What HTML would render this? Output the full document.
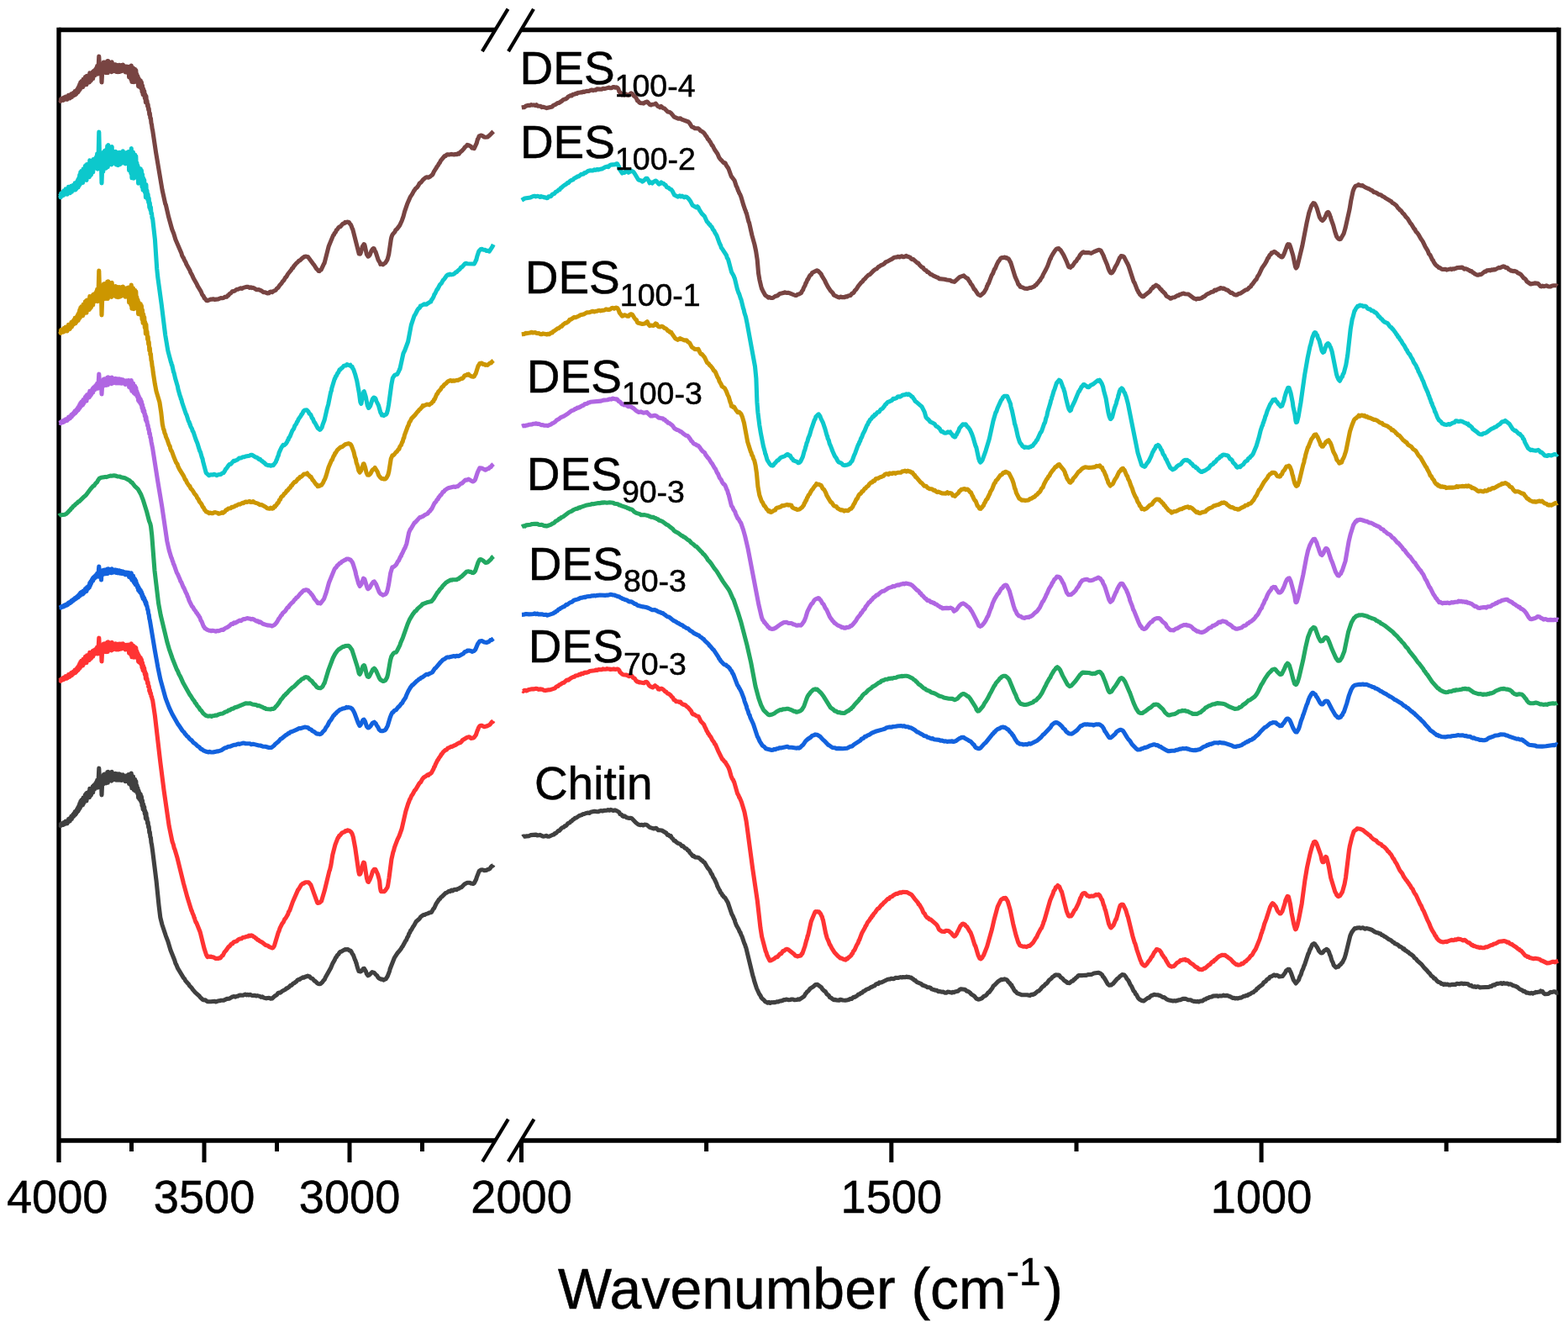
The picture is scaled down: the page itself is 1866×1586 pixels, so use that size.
<!DOCTYPE html>
<html><head><meta charset="utf-8"><title>FTIR spectra</title>
<style>html,body{margin:0;padding:0;background:#fff;overflow:hidden;} svg{display:block;}</style>
</head><body>
<svg width="1866" height="1586" viewBox="0 0 1866 1586"><g stroke="#000" stroke-width="5.3" fill="none" stroke-linecap="butt">
<line x1="70" y1="32.85" x2="70" y2="1383"/>
<line x1="1855" y1="32.85" x2="1855" y2="1359.65"/>
<line x1="70" y1="35.5" x2="589" y2="35.5"/>
<line x1="620.5" y1="35.5" x2="1855" y2="35.5"/>
<line x1="70" y1="1357" x2="589" y2="1357"/>
<line x1="620.5" y1="1357" x2="1855" y2="1357"/>
</g>
<g stroke="#000" stroke-width="5.0">
<line x1="243.0" y1="1357" x2="243.0" y2="1383"/>
<line x1="416.0" y1="1357" x2="416.0" y2="1383"/>
<line x1="156.5" y1="1357" x2="156.5" y2="1370"/>
<line x1="329.5" y1="1357" x2="329.5" y2="1370"/>
<line x1="502.5" y1="1357" x2="502.5" y2="1370"/>
<line x1="620.5" y1="1357" x2="620.5" y2="1383"/>
<line x1="1060.8" y1="1357" x2="1060.8" y2="1383"/>
<line x1="1501.1" y1="1357" x2="1501.1" y2="1383"/>
<line x1="840.6" y1="1357" x2="840.6" y2="1370"/>
<line x1="1281.0" y1="1357" x2="1281.0" y2="1370"/>
<line x1="1721.2" y1="1357" x2="1721.2" y2="1370"/>
</g>
<g stroke="#000" stroke-width="4.2" stroke-linecap="butt">
<line x1="573.9" y1="61.1" x2="604.5" y2="10.7"/>
<line x1="605" y1="61.1" x2="635" y2="10.7"/>
<line x1="574.2" y1="1382.1" x2="604.8" y2="1331.6"/>
<line x1="604.8" y1="1382.1" x2="635.5" y2="1331.6"/>
</g>
<path d="M70.5,981.9L71.6,981.5L72.2,982.6L72.7,980.2L73.3,981.9L73.8,980.2L74.4,981.4L74.9,979.4L75.5,981.4L76.0,978.5L76.6,980.7L77.1,978.8L77.7,980.1L78.2,977.2L78.8,979.5L79.3,977.0L79.9,979.8L80.4,976.7L81.0,978.5L81.5,974.5L82.1,977.1L82.6,974.0L83.2,977.0L83.7,973.4L84.3,975.3L84.8,971.3L85.4,974.4L85.9,970.5L86.5,972.4L87.0,969.1L87.6,971.4L88.1,967.7L88.7,970.0L89.2,965.7L89.8,969.3L90.3,965.0L90.9,967.7L91.4,963.3L92.0,966.1L92.5,961.2L93.1,965.0L93.6,959.2L94.2,963.0L94.7,956.2L95.3,961.3L95.8,953.6L96.4,959.1L96.9,952.0L97.5,958.3L98.0,951.1L98.6,957.7L99.1,949.1L99.7,955.5L100.2,949.5L100.8,952.9L101.3,945.7L101.9,952.9L102.4,944.4L103.0,952.9L103.5,943.2L104.1,948.5L104.6,943.1L105.2,948.9L105.7,942.1L106.3,948.8L106.8,938.4L107.4,947.1L107.9,938.7L108.5,945.8L109.0,938.5L109.6,942.8L110.1,936.1L110.7,942.9L111.2,934.7L111.8,939.6L112.3,933.8L112.9,938.8L113.4,932.6L114.0,937.0L114.5,930.9L115.1,936.8L115.6,928.4L116.2,937.1L116.7,928.1L117.0,931.7L117.8,914.0L118.7,934.7L120.4,926.1L121.0,946.0L121.8,928.1L122.2,923.5L122.8,933.2L123.3,921.7L123.9,929.8L124.4,921.1L125.0,929.0L125.5,921.8L126.1,931.9L126.6,920.8L127.2,930.5L127.7,918.9L128.3,931.3L128.8,918.2L129.4,927.0L129.9,919.8L130.5,928.6L131.0,921.5L131.6,928.5L132.1,919.3L132.7,929.2L133.2,918.4L133.8,926.3L134.3,921.3L134.9,927.8L135.4,921.8L136.0,926.4L136.5,920.6L137.1,926.2L137.6,920.3L138.2,928.1L138.7,922.7L139.3,927.2L139.8,920.8L140.4,928.3L140.9,922.3L141.5,926.3L142.0,920.9L142.6,928.3L143.1,922.8L143.7,927.2L144.2,921.7L144.8,928.4L145.3,923.3L145.9,928.1L146.4,921.9L147.0,928.0L147.5,923.8L148.1,927.0L148.6,923.5L149.2,929.7L149.7,924.0L150.3,927.8L150.8,922.7L151.4,928.3L151.9,923.3L152.5,928.6L153.0,921.5L153.6,932.5L154.1,921.9L154.7,930.7L155.2,922.8L155.8,934.5L156.3,920.0L156.9,937.8L157.4,925.4L158.0,933.4L158.5,923.7L159.1,939.7L159.6,927.5L160.2,940.4L160.7,927.3L161.3,941.3L161.8,929.5L162.4,940.3L162.9,934.7L163.5,943.8L164.0,937.9L164.6,949.2L165.1,940.9L165.7,950.6L166.2,943.6L166.8,951.9L167.3,945.0L167.9,954.1L168.4,947.9L169.0,958.7L169.5,952.3L170.1,962.8L170.6,956.7L171.2,964.2L171.7,960.0L172.3,968.4L172.8,964.7L173.4,973.8L173.9,967.3L174.5,975.2L175.0,973.3L175.6,979.8L176.1,978.1L176.7,984.5L177.2,983.6L177.8,990.8L178.3,989.9L178.9,996.0L179.4,996.5L180.0,1002.7L180.5,1004.7L181.6,1012.4L186.0,1047.6L189.0,1077.0L190.8,1091.6L192.8,1099.7L197.3,1113.3L199.7,1119.6L202.9,1130.2L207.8,1142.5L209.0,1146.6L209.6,1147.2L211.6,1152.2L218.7,1163.8L219.6,1164.5L220.5,1166.6L223.3,1169.8L224.3,1170.5L225.2,1172.4L228.2,1175.5L229.2,1177.2L232.4,1180.9L237.4,1185.2L238.3,1186.7L240.9,1189.0L242.1,1189.7L244.4,1189.9L246.9,1191.7L251.0,1191.7L255.4,1191.2L256.9,1192.0L259.9,1190.8L261.4,1190.8L262.9,1190.2L265.8,1190.3L270.1,1188.4L273.0,1188.2L275.9,1186.3L278.7,1185.5L280.2,1186.2L281.6,1185.3L283.1,1185.3L284.5,1184.2L286.0,1184.0L288.9,1184.3L291.8,1183.0L293.2,1183.9L294.7,1183.2L296.1,1183.9L297.5,1183.3L299.0,1184.1L300.4,1184.5L303.3,1184.4L304.8,1185.0L306.3,1184.6L309.2,1185.4L310.7,1186.4L312.3,1185.9L313.8,1187.1L316.9,1187.9L318.3,1187.5L319.7,1187.4L321.0,1187.5L322.2,1188.2L323.8,1188.0L327.5,1184.7L328.5,1184.4L329.6,1183.4L330.9,1181.6L332.1,1181.1L333.3,1181.1L334.5,1180.5L335.8,1179.2L339.7,1177.2L341.0,1175.8L342.1,1175.9L343.2,1174.7L344.4,1174.1L345.5,1172.6L346.7,1172.5L349.1,1169.9L350.3,1169.7L351.4,1168.6L352.6,1168.0L353.9,1166.2L355.3,1165.4L356.7,1165.5L358.1,1164.2L359.4,1163.7L360.8,1162.7L362.0,1163.1L363.2,1162.1L364.2,1162.2L366.0,1161.0L367.2,1161.7L368.4,1161.8L369.9,1163.8L371.9,1164.4L374.3,1167.2L375.5,1167.7L377.7,1169.9L378.6,1170.5L380.2,1170.8L381.4,1170.5L383.9,1168.3L384.7,1166.9L386.3,1165.4L387.1,1163.3L393.6,1151.7L396.1,1145.8L398.3,1142.2L399.0,1140.4L399.6,1139.3L400.3,1138.9L401.0,1137.2L402.0,1136.0L402.9,1135.4L403.9,1133.5L404.9,1132.4L406.0,1132.2L410.5,1129.6L412.0,1129.9L413.4,1129.5L414.7,1130.0L415.9,1131.0L417.0,1131.0L418.0,1132.2L418.9,1134.1L420.5,1136.5L422.6,1142.3L423.1,1143.0L423.7,1145.4L424.1,1145.8L424.6,1148.3L426.0,1152.9L427.0,1155.5L427.6,1155.4L428.7,1156.0L429.8,1155.6L431.1,1154.4L432.3,1152.5L433.4,1152.4L435.6,1156.1L436.3,1158.6L437.9,1160.8L439.0,1160.3L442.9,1156.6L445.3,1157.4L447.5,1159.9L448.7,1160.6L449.8,1162.8L450.9,1163.9L453.5,1165.1L455.0,1165.1L456.5,1166.1L457.9,1165.2L459.1,1164.9L461.2,1161.6L463.6,1155.3L464.1,1153.0L469.5,1139.3L473.0,1134.0L475.7,1130.8L477.4,1128.7L478.2,1127.0L479.0,1126.2L482.9,1119.0L483.5,1118.6L484.8,1115.2L486.0,1113.5L486.6,1111.1L487.9,1109.2L488.6,1107.1L489.3,1106.7L491.8,1102.3L492.6,1101.4L495.2,1096.5L499.3,1093.0L500.5,1091.0L502.8,1089.2L504.0,1088.6L505.2,1088.5L506.6,1087.6L509.3,1086.9L510.7,1086.0L513.4,1085.5L515.8,1081.2L516.6,1080.7L519.0,1075.4L522.6,1070.0L523.6,1069.5L524.6,1067.7L525.6,1067.1L530.2,1062.6L531.5,1062.3L534.2,1060.3L535.7,1060.7L537.3,1059.1L538.9,1059.8L540.4,1058.6L542.0,1058.3L543.5,1058.6L544.9,1057.5L546.2,1057.3L547.7,1056.1L549.1,1055.8L552.7,1052.0L556.1,1050.2L559.0,1050.2L560.4,1051.0L563.1,1051.5L564.3,1050.8L566.7,1046.0L567.3,1043.8L570.2,1036.3L572.1,1035.1L573.4,1034.9L574.8,1035.0L576.2,1035.6L579.0,1035.4L580.2,1034.6L581.6,1034.3L582.9,1033.6L584.3,1031.5L585.5,1030.2L586.5,1030.1L587.2,1029.0" fill="none" stroke="#404040" stroke-width="5.1" stroke-linejoin="round"/>
<path d="M621.9,995.8L622.8,995.1L623.8,995.0L625.1,995.3L626.5,994.9L629.7,994.6L631.4,993.6L637.9,993.1L639.4,993.9L642.5,993.4L645.7,994.9L647.3,995.1L650.5,994.3L652.0,995.3L653.5,995.3L657.8,993.3L659.1,993.0L660.4,991.5L661.7,991.4L664.2,988.6L665.5,988.5L668.1,985.5L669.5,984.5L670.9,984.3L672.1,982.7L673.2,982.6L674.4,981.7L675.6,979.9L678.0,978.8L679.2,977.4L680.4,976.9L681.7,975.4L682.9,974.8L684.2,973.4L685.5,973.3L689.4,970.5L692.3,969.6L693.8,968.5L695.3,968.5L696.8,967.8L699.8,967.1L701.4,967.4L702.9,966.3L707.5,965.3L710.6,965.8L712.1,965.7L713.7,964.9L715.4,964.6L717.0,965.0L718.7,964.4L722.0,964.3L723.6,963.5L725.2,964.3L726.7,963.4L729.5,964.4L731.8,963.9L733.8,964.6L736.8,966.4L738.0,968.7L739.8,969.4L740.9,971.0L742.0,971.5L743.2,970.9L745.9,972.8L748.8,973.5L750.3,973.3L751.9,973.7L756.7,978.8L759.6,981.0L762.5,981.7L763.9,981.2L765.4,982.0L767.0,981.1L768.5,981.2L770.0,981.7L773.1,984.4L776.2,985.4L777.7,985.9L780.7,985.2L783.5,987.8L784.9,987.7L787.6,988.0L793.0,991.3L794.3,993.4L795.7,993.3L797.0,994.9L798.2,994.5L799.5,997.1L800.8,998.0L802.1,1000.2L803.3,1000.2L804.5,1001.7L806.9,1003.4L809.3,1004.1L811.6,1006.7L812.8,1006.6L815.0,1008.9L817.3,1010.1L818.5,1011.8L819.6,1012.0L820.7,1014.2L823.1,1016.7L824.4,1018.6L825.7,1018.4L827.0,1019.9L830.8,1020.2L833.4,1022.0L834.6,1023.4L835.8,1023.9L837.0,1025.5L838.2,1025.9L842.1,1032.5L844.4,1035.2L846.6,1039.7L847.3,1040.1L848.7,1043.6L850.1,1045.6L852.9,1051.6L853.6,1054.0L855.9,1058.6L856.7,1059.6L857.4,1061.7L859.0,1063.5L859.8,1065.4L860.6,1065.7L861.4,1067.2L862.9,1068.2L866.3,1074.1L870.8,1087.5L872.2,1090.0L873.7,1093.7L874.2,1094.3L874.8,1096.8L876.5,1101.3L879.1,1105.8L880.4,1108.9L881.1,1109.5L881.7,1111.7L883.0,1114.1L885.9,1122.7L886.8,1124.5L887.3,1126.7L887.7,1127.2L896.0,1161.4L896.9,1163.9L897.4,1166.4L900.4,1175.8L903.6,1182.7L905.1,1184.8L905.9,1186.8L907.5,1188.6L909.3,1190.0L910.6,1191.7L912.0,1192.1L913.5,1193.2L915.0,1192.4L916.5,1193.5L918.1,1192.6L919.8,1192.7L921.1,1192.4L922.4,1192.7L925.1,1191.7L926.5,1192.0L928.0,1191.0L929.5,1190.9L931.2,1190.5L932.9,1189.5L934.2,1189.7L935.6,1189.1L938.7,1189.7L940.4,1189.5L942.0,1189.0L943.7,1189.0L945.3,1189.8L948.4,1189.5L949.8,1188.8L951.1,1189.3L957.0,1185.4L958.7,1182.2L959.6,1181.5L960.7,1179.7L961.8,1179.2L964.2,1176.1L967.9,1173.8L970.3,1171.6L971.4,1171.7L972.7,1171.3L977.5,1174.9L978.7,1176.9L981.0,1179.1L982.0,1179.4L984.1,1182.9L986.3,1184.4L987.4,1186.5L989.6,1187.6L990.7,1188.7L992.2,1189.7L993.8,1189.2L995.3,1189.9L998.4,1190.3L1000.0,1189.2L1003.0,1190.0L1005.9,1190.2L1008.8,1189.7L1010.4,1189.3L1012.2,1188.2L1013.4,1188.5L1016.0,1186.2L1017.3,1186.4L1020.1,1184.6L1021.6,1183.0L1023.0,1182.9L1024.4,1181.6L1025.8,1181.3L1027.2,1179.7L1028.6,1179.1L1031.4,1177.1L1034.1,1176.3L1036.9,1174.2L1038.3,1174.1L1039.6,1173.1L1040.9,1172.7L1042.2,1171.3L1043.7,1170.4L1045.1,1170.6L1046.5,1168.9L1047.9,1169.1L1049.3,1168.7L1056.4,1165.2L1059.4,1164.9L1061.0,1164.2L1062.5,1164.7L1064.1,1164.4L1065.7,1163.3L1068.7,1163.5L1071.6,1162.6L1073.2,1163.0L1074.7,1162.5L1077.6,1162.7L1079.0,1162.1L1080.4,1162.7L1081.7,1162.4L1082.9,1163.1L1084.3,1163.1L1085.6,1164.4L1086.8,1164.7L1087.9,1166.3L1089.0,1166.2L1090.2,1167.7L1091.5,1168.7L1096.3,1170.6L1097.6,1172.0L1102.2,1173.6L1103.4,1174.6L1106.0,1174.8L1107.5,1175.4L1108.9,1176.9L1113.4,1178.3L1115.0,1178.3L1116.5,1179.7L1117.9,1179.6L1121.0,1180.3L1122.6,1180.1L1124.3,1181.2L1126.0,1181.3L1127.7,1180.1L1129.3,1180.2L1132.5,1181.1L1133.9,1180.4L1135.3,1180.8L1136.5,1179.9L1139.9,1179.3L1142.4,1177.1L1143.6,1176.8L1147.7,1177.2L1149.1,1177.8L1150.4,1179.2L1151.8,1179.4L1153.2,1180.2L1154.5,1181.2L1155.8,1182.8L1159.5,1185.2L1161.9,1188.1L1164.4,1189.1L1165.6,1188.9L1168.3,1187.9L1171.0,1185.2L1172.4,1184.9L1173.7,1184.0L1176.1,1180.9L1177.1,1180.6L1178.0,1179.4L1181.0,1175.5L1182.0,1173.3L1183.9,1171.8L1187.3,1168.2L1191.5,1165.3L1192.9,1165.7L1195.5,1164.8L1197.8,1165.6L1198.8,1166.4L1199.8,1168.1L1201.9,1170.0L1203.0,1171.9L1203.9,1172.1L1204.7,1174.3L1205.4,1175.0L1207.1,1178.3L1208.0,1179.4L1209.0,1179.9L1210.2,1181.6L1215.7,1183.7L1222.4,1183.7L1225.7,1184.5L1227.3,1183.2L1228.7,1183.5L1231.3,1182.5L1234.9,1179.4L1236.1,1179.1L1238.3,1177.0L1239.4,1175.3L1241.5,1173.3L1242.7,1172.8L1243.9,1171.1L1245.0,1170.5L1246.2,1169.4L1248.4,1166.3L1251.4,1164.0L1252.3,1162.5L1253.8,1161.8L1255.9,1160.0L1257.1,1159.9L1258.7,1160.3L1259.7,1160.0L1260.8,1160.7L1262.1,1162.7L1264.7,1164.4L1266.1,1166.3L1268.8,1168.0L1270.2,1169.5L1271.5,1169.3L1272.8,1169.7L1275.4,1167.3L1276.7,1167.3L1277.9,1165.5L1279.2,1165.0L1280.5,1163.4L1281.8,1162.5L1283.1,1161.0L1284.4,1160.5L1287.3,1160.6L1291.7,1160.2L1293.1,1160.4L1294.5,1159.6L1298.8,1159.5L1301.9,1158.0L1307.4,1157.2L1309.8,1158.4L1311.7,1160.0L1312.5,1161.9L1313.3,1162.5L1315.0,1165.0L1318.1,1170.6L1320.1,1172.3L1322.3,1172.0L1323.4,1171.0L1324.5,1170.5L1329.6,1164.5L1330.9,1163.8L1333.4,1161.1L1334.4,1160.5L1335.4,1159.6L1338.0,1160.0L1340.0,1162.5L1340.9,1164.4L1342.9,1166.7L1345.1,1171.4L1346.7,1173.7L1349.0,1178.9L1350.6,1180.5L1351.4,1182.8L1352.4,1183.3L1354.3,1187.2L1356.3,1189.3L1358.6,1190.4L1361.1,1191.0L1366.1,1187.2L1367.5,1187.1L1369.0,1185.3L1370.4,1184.4L1371.9,1184.2L1373.5,1183.2L1375.0,1183.7L1377.8,1183.8L1380.8,1184.7L1383.9,1186.6L1385.4,1186.6L1388.5,1189.0L1390.1,1189.7L1396.0,1191.0L1397.5,1190.6L1399.0,1191.0L1403.3,1189.7L1404.8,1189.6L1407.7,1188.4L1410.8,1188.2L1414.0,1189.7L1417.2,1189.8L1418.9,1190.9L1420.5,1191.4L1422.1,1191.3L1423.6,1191.8L1425.1,1191.4L1426.5,1192.0L1428.1,1191.1L1430.9,1191.0L1433.4,1189.0L1434.7,1188.9L1436.1,1187.8L1437.6,1187.5L1439.3,1186.5L1442.0,1186.1L1443.4,1185.1L1448.1,1184.7L1449.7,1185.4L1451.3,1184.9L1454.4,1185.0L1455.9,1184.0L1457.3,1184.7L1460.3,1184.4L1464.5,1186.0L1467.1,1187.4L1468.5,1187.2L1469.9,1188.0L1471.5,1187.6L1472.8,1188.0L1475.6,1187.1L1477.1,1187.1L1480.2,1185.3L1481.7,1185.1L1483.2,1184.4L1484.7,1184.5L1486.1,1183.0L1487.4,1182.9L1490.1,1181.0L1491.3,1180.8L1493.6,1178.7L1494.7,1178.4L1495.7,1176.4L1496.8,1176.0L1498.1,1174.5L1502.7,1171.1L1503.8,1169.0L1506.3,1167.5L1507.5,1165.8L1508.8,1164.7L1510.0,1164.4L1511.1,1162.4L1513.4,1161.6L1516.2,1159.8L1517.8,1160.9L1519.4,1160.2L1520.9,1160.8L1522.3,1162.0L1526.3,1161.5L1529.5,1157.2L1530.6,1154.7L1531.6,1154.5L1532.6,1153.4L1534.4,1153.3L1535.1,1155.4L1535.8,1156.2L1536.5,1157.9L1539.4,1166.1L1542.2,1170.0L1545.5,1166.0L1546.8,1161.9L1548.2,1159.4L1549.5,1155.1L1550.8,1152.5L1551.9,1148.9L1552.5,1148.1L1557.0,1134.4L1557.5,1134.0L1559.0,1129.3L1559.4,1129.1L1561.7,1123.9L1563.6,1122.6L1564.7,1123.1L1567.9,1127.7L1569.6,1131.4L1571.4,1133.4L1572.2,1133.9L1573.5,1133.8L1574.7,1132.8L1576.0,1130.9L1577.2,1130.5L1578.5,1129.3L1580.3,1130.4L1580.9,1131.8L1581.5,1132.4L1582.7,1136.3L1583.3,1137.1L1585.0,1143.1L1586.2,1145.2L1587.2,1148.4L1589.9,1151.1L1591.2,1150.3L1592.6,1150.3L1594.1,1148.4L1595.7,1147.3L1596.6,1145.6L1597.4,1145.3L1600.1,1139.9L1601.7,1134.5L1606.8,1113.4L1608.7,1109.1L1612.2,1104.5L1613.4,1104.8L1614.7,1104.1L1617.6,1103.7L1619.4,1104.4L1621.9,1103.7L1624.6,1105.2L1626.1,1104.6L1629.2,1105.2L1632.3,1106.2L1635.5,1108.4L1637.1,1109.2L1638.7,1109.8L1640.0,1109.8L1641.3,1110.8L1642.7,1110.8L1644.1,1112.4L1645.6,1112.7L1647.0,1114.0L1648.5,1114.5L1652.8,1117.6L1655.4,1118.8L1657.9,1121.1L1659.0,1121.4L1660.1,1122.8L1661.8,1123.2L1663.2,1124.0L1664.5,1124.8L1665.7,1126.3L1666.7,1126.2L1668.8,1127.8L1669.8,1129.1L1671.0,1128.9L1672.2,1130.9L1673.5,1131.0L1674.7,1132.5L1675.9,1132.7L1677.2,1134.3L1679.6,1135.7L1682.1,1137.8L1683.2,1139.7L1685.4,1141.1L1686.5,1142.8L1692.0,1147.7L1695.1,1151.7L1698.1,1154.6L1700.2,1157.3L1701.2,1157.9L1703.2,1160.9L1705.4,1162.3L1706.7,1164.3L1707.9,1164.4L1710.3,1167.3L1711.5,1168.3L1714.0,1169.1L1715.2,1170.4L1716.7,1170.6L1718.2,1171.6L1719.6,1170.8L1721.1,1171.4L1722.6,1171.0L1724.3,1171.9L1726.2,1171.9L1727.5,1171.4L1732.1,1171.4L1733.7,1170.2L1736.9,1170.7L1738.5,1170.0L1740.0,1170.1L1741.5,1170.7L1742.8,1170.2L1747.1,1170.8L1748.3,1172.2L1749.5,1172.6L1750.8,1172.4L1752.2,1173.8L1753.8,1174.1L1755.1,1173.6L1756.6,1174.5L1758.1,1173.8L1759.7,1174.1L1761.3,1175.0L1762.9,1174.7L1772.0,1174.4L1773.5,1173.5L1774.9,1173.7L1776.2,1172.4L1777.5,1171.8L1778.8,1172.1L1780.1,1171.0L1781.4,1170.4L1783.0,1170.4L1786.2,1169.6L1787.7,1170.6L1789.3,1169.5L1790.9,1170.3L1793.9,1170.1L1795.2,1171.1L1797.8,1170.8L1800.5,1172.5L1803.5,1173.4L1806.0,1174.6L1808.6,1177.0L1811.4,1178.1L1812.8,1179.4L1814.1,1179.3L1816.6,1181.3L1817.8,1181.0L1819.5,1181.8L1821.1,1181.9L1822.6,1181.3L1824.0,1182.2L1825.3,1181.3L1826.6,1181.3L1827.8,1180.4L1829.4,1180.7L1830.8,1180.2L1832.1,1180.3L1833.4,1179.0L1834.6,1180.0L1835.7,1179.6L1836.7,1181.3L1838.8,1182.8L1842.5,1182.5L1845.4,1180.4L1846.7,1180.6L1849.5,1179.8L1850.9,1180.0L1852.3,1181.3L1854.3,1181.0" fill="none" stroke="#404040" stroke-width="5.1" stroke-linejoin="round"/>
<path d="M70.5,809.8L71.6,809.3L72.2,810.2L72.7,808.0L73.3,809.4L73.8,807.9L74.4,808.8L74.9,806.9L75.5,808.7L76.0,806.1L76.6,808.0L77.1,806.2L77.7,807.4L78.2,804.7L78.8,806.8L79.3,804.5L79.9,807.1L80.4,804.4L81.0,806.1L81.5,802.6L82.1,805.0L82.6,802.4L83.2,805.2L83.7,802.2L84.3,804.1L84.8,800.6L85.4,803.6L85.9,800.2L86.5,802.2L87.0,799.4L87.6,801.6L88.1,798.5L88.7,800.8L89.2,797.0L89.8,800.4L90.3,796.7L90.9,799.2L91.4,795.4L92.0,798.0L92.5,793.8L93.1,797.3L93.6,792.2L94.2,795.8L94.7,789.8L95.3,794.5L95.8,787.6L96.4,792.7L96.9,786.4L97.5,792.2L98.0,785.9L98.6,791.9L99.1,784.2L99.7,790.1L100.2,784.9L100.8,788.0L101.3,781.6L101.9,788.3L102.4,780.7L103.0,788.5L103.5,779.8L104.1,784.7L104.6,780.0L105.2,785.3L105.7,779.2L106.3,785.4L106.8,776.2L107.4,784.1L107.9,776.7L108.5,783.2L109.0,776.7L109.6,780.7L110.1,774.9L110.7,781.1L111.2,774.0L111.8,778.5L112.3,773.5L112.9,778.2L113.4,772.9L114.0,777.0L114.5,771.8L115.1,777.3L115.6,770.0L116.2,778.0L116.7,770.1L117.0,773.4L117.8,759.0L118.7,776.4L120.4,769.4L121.0,787.0L121.8,771.4L122.2,767.4L122.8,776.2L123.3,766.0L123.9,773.4L124.4,765.7L125.0,772.9L125.5,766.5L126.1,775.7L126.6,765.9L127.2,774.6L127.7,764.2L128.3,775.5L128.8,763.8L129.4,771.7L129.9,765.3L130.5,773.3L131.0,766.9L131.6,773.2L132.1,765.0L132.7,773.9L133.2,764.2L133.8,771.3L134.3,766.8L134.9,772.7L135.4,767.3L136.0,771.4L136.5,766.2L137.1,771.2L137.6,765.9L138.2,772.9L138.7,768.0L139.3,772.0L139.8,766.2L140.4,772.9L140.9,767.5L141.5,771.0L142.0,766.0L142.6,772.5L143.1,767.5L143.7,771.3L144.2,766.1L144.8,772.0L145.3,767.3L145.9,771.5L146.4,765.8L147.0,771.2L147.5,767.4L148.1,770.3L148.6,767.2L149.2,772.9L149.7,767.9L150.3,771.5L150.8,767.2L151.4,772.6L151.9,768.2L152.5,773.3L153.0,767.1L153.6,777.2L154.1,767.8L154.7,775.8L155.2,768.6L155.8,779.2L156.3,765.9L156.9,781.8L157.4,770.3L158.0,777.2L158.5,768.1L159.1,782.1L159.6,770.7L160.2,781.9L160.7,769.7L161.3,781.9L161.8,770.8L162.4,780.3L162.9,774.9L163.5,782.8L164.0,777.3L164.6,787.2L165.1,779.5L165.7,788.0L166.2,781.5L166.8,788.8L167.3,782.5L167.9,790.4L168.4,784.7L169.0,794.3L169.5,788.4L170.1,797.7L170.6,792.1L171.2,798.7L171.7,794.9L172.3,802.5L172.8,799.3L173.4,807.6L173.9,801.8L174.5,809.1L175.0,807.4L175.6,813.3L176.1,811.7L176.7,817.3L177.2,816.2L177.8,822.3L178.3,820.8L178.9,825.4L179.4,824.6L180.0,828.7L180.5,828.8L181.1,831.9L181.6,832.9L184.4,851.6L190.7,906.0L195.1,940.6L201.2,982.8L205.1,1001.7L206.4,1005.2L207.3,1009.2L207.8,1009.9L210.8,1019.9L218.4,1050.8L223.1,1068.1L227.9,1083.4L228.4,1084.0L228.9,1086.0L230.5,1089.5L231.0,1091.8L231.5,1092.1L232.0,1094.3L233.1,1097.3L233.7,1097.7L238.3,1109.3L243.0,1128.4L245.5,1136.0L246.9,1138.6L248.2,1138.0L249.6,1138.4L251.3,1138.1L252.5,1138.8L253.8,1138.8L256.7,1140.4L259.8,1140.4L261.4,1139.6L262.3,1139.9L264.2,1137.1L265.2,1136.8L267.1,1132.9L269.1,1130.7L272.0,1126.5L273.0,1126.0L275.5,1123.0L276.8,1122.8L278.0,1120.9L281.8,1119.7L283.2,1118.2L284.6,1117.3L287.4,1116.8L288.8,1115.5L291.9,1114.9L293.4,1114.2L294.9,1114.2L296.3,1113.1L297.7,1113.7L299.0,1112.8L300.5,1113.4L301.8,1114.6L303.0,1114.9L304.2,1116.3L305.4,1116.9L306.6,1118.2L307.8,1118.5L309.2,1119.8L311.8,1121.1L316.1,1124.6L318.8,1125.2L320.1,1126.3L324.0,1128.0L324.8,1127.6L325.6,1126.8L326.6,1124.8L331.4,1108.7L331.9,1108.2L333.1,1104.3L335.8,1098.9L337.3,1097.1L338.7,1093.7L340.1,1092.2L341.5,1089.8L342.9,1087.2L343.5,1085.0L344.8,1083.2L348.4,1073.0L354.6,1058.9L356.0,1057.1L358.2,1053.2L360.5,1051.0L361.7,1051.1L362.9,1050.0L364.1,1049.8L367.2,1049.7L370.0,1053.0L377.7,1074.1L378.3,1074.4L380.4,1074.1L381.5,1072.9L382.5,1072.2L386.2,1059.8L392.0,1036.0L392.4,1035.5L393.9,1029.1L395.8,1017.1L398.9,1005.1L402.2,996.6L402.9,996.2L403.6,994.5L404.7,993.8L407.1,990.8L409.8,989.9L411.1,988.5L412.3,988.8L413.4,987.8L415.9,988.4L418.0,990.2L419.0,991.9L420.3,995.8L422.8,1009.3L426.7,1036.6L427.5,1040.3L428.2,1040.2L429.1,1039.2L431.6,1028.8L432.6,1026.2L433.4,1026.4L433.7,1027.2L436.5,1045.1L437.6,1048.8L438.0,1049.1L438.6,1049.4L439.2,1047.8L439.9,1047.0L442.0,1041.7L443.4,1037.0L444.1,1035.8L445.4,1034.2L446.8,1034.3L449.5,1040.0L451.1,1045.9L451.7,1048.5L452.4,1056.2L453.2,1060.0L453.6,1060.7L454.6,1060.6L455.8,1060.8L457.1,1060.7L458.5,1059.5L461.0,1055.9L461.6,1053.6L463.0,1044.6L465.9,1022.3L467.9,1013.7L468.6,1011.8L469.5,1008.2L472.9,999.2L475.1,994.7L478.2,985.8L482.8,965.5L485.6,956.4L486.5,954.4L487.6,951.1L488.2,950.5L489.6,947.1L491.1,945.0L493.6,940.3L494.5,939.8L498.8,932.4L499.7,931.2L500.6,930.7L502.5,927.1L504.3,925.0L506.4,923.8L508.7,921.8L509.9,922.4L511.1,920.9L512.2,920.5L513.4,919.5L516.1,914.6L516.7,912.5L517.4,912.0L518.1,909.9L520.9,904.1L521.6,903.5L522.5,901.7L524.3,899.4L525.2,897.4L526.1,896.8L527.1,895.2L530.3,892.2L531.5,892.1L532.7,890.4L535.3,889.2L536.7,888.2L538.1,888.4L541.0,886.7L542.4,886.4L543.8,885.2L546.2,883.9L547.7,883.7L549.1,882.6L550.3,880.7L556.1,877.3L557.6,876.8L559.0,877.1L560.4,878.4L563.1,878.0L564.3,877.3L566.3,874.6L568.2,869.0L568.8,868.1L569.4,866.0L570.8,863.8L572.1,863.2L573.4,863.3L576.2,864.7L579.0,864.1L582.9,862.3L585.5,858.9L586.5,858.8L587.2,857.6" fill="none" stroke="#FF3333" stroke-width="5.1" stroke-linejoin="round"/>
<path d="M621.9,821.9L622.8,822.5L623.8,821.5L625.1,821.2L626.5,821.9L629.7,820.4L633.1,819.7L634.8,819.9L637.9,819.3L639.4,819.5L640.9,820.4L642.5,819.9L645.7,820.3L647.3,821.3L648.9,821.6L652.0,820.9L655.0,820.7L660.4,818.9L661.7,817.4L662.9,816.6L664.2,816.5L665.5,814.9L666.8,814.4L669.5,812.6L670.9,812.3L673.6,809.8L674.9,809.1L676.3,809.3L679.1,807.0L682.0,805.5L683.4,805.3L684.9,803.9L687.9,803.4L689.4,802.2L690.8,802.6L692.3,801.3L693.9,801.6L695.4,800.4L698.6,800.1L700.2,799.6L701.7,798.5L707.8,797.7L709.2,797.0L710.6,797.5L712.4,796.6L716.0,796.7L717.7,795.9L719.3,796.3L720.9,796.3L722.4,795.6L723.8,796.0L725.2,796.0L726.5,796.5L730.3,795.9L731.9,796.4L734.6,796.0L735.8,796.4L736.8,797.3L737.9,799.9L740.7,802.2L741.8,802.7L745.7,803.1L748.7,804.6L750.3,804.0L751.9,804.2L753.5,806.5L755.2,807.2L756.7,809.6L758.3,811.2L759.6,811.1L761.0,812.0L762.4,811.9L766.6,812.7L768.0,811.4L769.4,811.2L770.9,812.8L772.3,815.3L773.8,816.7L776.7,818.0L779.5,815.7L780.8,816.9L782.2,817.5L783.5,820.1L784.9,820.3L786.2,819.3L787.6,819.2L790.3,821.3L791.6,822.8L792.9,823.2L794.3,825.0L795.6,825.4L798.2,827.3L799.4,829.1L800.7,830.1L802.0,832.7L803.3,832.9L804.6,834.8L807.2,834.8L808.4,835.4L809.7,835.0L810.9,836.8L813.3,838.5L814.5,838.4L815.7,838.8L816.9,840.3L819.2,842.1L822.6,846.1L823.7,848.8L824.8,849.9L825.9,849.8L829.1,852.0L831.1,852.2L834.1,858.3L837.7,862.0L838.6,864.4L840.2,867.5L841.1,869.9L841.9,870.6L842.7,872.8L843.5,873.2L844.3,875.0L845.9,876.9L847.5,880.2L849.8,883.3L850.6,885.3L851.4,885.7L854.5,893.1L859.7,903.6L860.4,903.8L862.4,906.5L863.2,906.7L864.0,908.6L864.6,909.2L867.1,913.6L868.2,916.6L870.0,923.2L871.5,926.7L872.5,927.7L873.0,929.7L873.5,929.9L877.5,943.9L879.1,946.8L879.7,948.7L880.2,949.1L882.4,954.2L884.9,962.4L886.0,966.3L888.1,977.0L889.0,983.5L895.6,1032.8L901.3,1071.6L905.0,1104.2L906.6,1114.3L911.1,1131.5L912.0,1133.3L912.9,1136.8L913.4,1137.1L913.8,1138.5L916.1,1143.0L917.4,1142.7L921.2,1140.7L923.6,1138.8L925.0,1138.7L928.4,1134.8L929.6,1134.7L931.8,1131.5L933.0,1131.5L935.0,1129.6L936.4,1129.2L937.7,1129.6L945.3,1135.6L946.6,1137.2L947.9,1137.2L949.2,1138.0L950.5,1137.4L953.0,1136.9L954.3,1134.6L954.8,1134.7L957.8,1126.0L959.8,1118.4L960.2,1117.8L961.1,1113.6L961.5,1113.2L965.3,1096.3L969.8,1085.4L970.6,1084.6L971.4,1084.9L972.4,1084.5L973.5,1085.0L974.6,1084.9L976.8,1087.7L977.9,1090.3L978.3,1090.5L979.0,1093.8L979.4,1094.2L982.6,1110.2L984.3,1116.2L986.1,1120.1L987.4,1123.8L988.0,1124.4L990.0,1128.4L992.9,1132.9L997.6,1137.9L1000.1,1140.0L1001.3,1140.1L1003.6,1141.3L1006.2,1142.1L1007.4,1140.5L1008.6,1140.9L1009.8,1139.2L1011.0,1138.5L1013.0,1136.6L1013.8,1134.8L1014.6,1134.3L1015.4,1132.0L1017.0,1130.2L1019.4,1124.7L1021.4,1121.4L1022.0,1119.1L1022.6,1118.5L1025.8,1109.9L1029.3,1103.8L1030.0,1101.9L1030.8,1101.3L1032.4,1097.6L1035.0,1094.4L1036.0,1092.3L1036.9,1091.9L1037.9,1089.5L1038.8,1089.4L1039.7,1087.3L1041.6,1085.5L1042.6,1083.7L1044.6,1081.1L1045.7,1080.8L1048.8,1076.9L1049.8,1076.4L1051.9,1073.8L1052.9,1073.2L1056.7,1069.2L1058.0,1069.4L1059.3,1067.4L1061.8,1066.6L1063.1,1065.2L1066.7,1063.2L1067.9,1063.4L1071.0,1061.7L1072.4,1062.3L1073.9,1061.3L1079.5,1061.6L1082.0,1063.2L1084.2,1064.1L1085.2,1065.0L1088.4,1069.3L1092.3,1073.8L1093.1,1075.8L1094.0,1076.1L1097.3,1081.8L1098.9,1085.7L1100.6,1087.4L1101.4,1089.4L1103.4,1091.8L1104.7,1092.2L1105.9,1093.9L1107.2,1093.8L1114.0,1099.6L1115.8,1102.1L1117.4,1105.8L1120.7,1108.1L1123.9,1108.5L1125.6,1107.4L1128.8,1107.5L1132.5,1110.4L1133.4,1112.0L1135.4,1114.1L1136.5,1113.8L1138.7,1110.7L1139.5,1108.5L1140.3,1107.4L1142.7,1102.2L1143.5,1101.2L1144.3,1100.7L1145.1,1099.2L1146.2,1099.1L1148.4,1100.1L1149.5,1102.0L1150.6,1102.4L1154.3,1108.6L1154.9,1109.1L1156.5,1113.3L1160.1,1124.8L1160.7,1125.3L1164.2,1136.9L1165.9,1140.3L1167.3,1141.0L1168.9,1139.5L1169.7,1137.6L1170.5,1136.8L1174.7,1126.1L1180.5,1105.5L1183.0,1094.5L1187.2,1078.9L1191.0,1071.0L1192.0,1069.9L1192.9,1069.6L1193.8,1068.8L1194.7,1068.6L1195.5,1069.2L1196.4,1068.3L1197.1,1068.7L1199.3,1072.5L1202.1,1082.1L1205.7,1099.3L1209.1,1112.8L1211.9,1121.7L1212.5,1122.0L1213.1,1123.9L1213.7,1124.8L1218.1,1126.3L1219.7,1126.1L1221.4,1126.6L1224.4,1125.2L1225.4,1125.4L1229.3,1121.7L1233.0,1115.6L1233.7,1115.0L1235.1,1111.6L1238.7,1104.9L1239.4,1104.3L1241.5,1098.9L1242.0,1096.8L1242.9,1095.0L1249.7,1071.3L1253.4,1062.5L1254.0,1060.1L1255.3,1058.6L1256.5,1055.5L1257.1,1055.7L1258.8,1053.5L1259.8,1054.6L1260.7,1054.9L1263.0,1060.6L1263.4,1060.5L1269.2,1083.7L1271.5,1089.6L1272.6,1090.1L1273.6,1089.4L1274.7,1089.8L1275.8,1088.4L1279.0,1082.6L1280.1,1081.7L1283.5,1074.6L1285.6,1068.7L1286.9,1066.6L1287.5,1064.6L1288.7,1063.2L1290.1,1062.6L1291.5,1062.8L1294.0,1065.8L1295.1,1065.9L1296.3,1066.8L1298.5,1066.1L1301.2,1066.3L1304.2,1064.4L1305.8,1065.0L1307.3,1064.1L1308.6,1065.2L1311.1,1070.3L1311.7,1070.8L1313.3,1076.7L1313.9,1077.5L1315.0,1082.0L1315.5,1082.6L1319.6,1099.4L1321.4,1103.2L1322.3,1103.9L1325.1,1100.8L1327.9,1093.8L1328.4,1093.7L1332.3,1079.6L1333.3,1077.0L1333.8,1077.1L1334.3,1076.4L1335.1,1076.1L1335.8,1076.6L1336.6,1076.3L1339.8,1082.9L1341.8,1089.8L1342.2,1090.3L1347.9,1113.7L1350.3,1121.7L1350.8,1122.4L1353.0,1130.2L1356.9,1141.8L1358.0,1144.0L1358.5,1146.0L1359.0,1146.0L1359.5,1147.5L1360.0,1147.4L1361.3,1148.8L1362.6,1149.2L1365.0,1146.8L1366.2,1144.7L1368.6,1141.8L1370.3,1138.7L1371.2,1138.0L1373.8,1132.9L1374.6,1132.3L1376.3,1129.6L1377.2,1129.5L1380.0,1130.8L1381.9,1133.3L1382.9,1135.7L1383.8,1136.6L1385.7,1139.6L1386.6,1140.3L1387.5,1142.4L1391.0,1148.3L1392.0,1149.2L1394.3,1150.2L1395.4,1149.7L1396.6,1149.8L1397.8,1148.9L1400.4,1145.8L1403.3,1144.3L1404.7,1142.5L1406.2,1142.5L1407.8,1141.8L1409.3,1142.0L1410.5,1141.4L1411.7,1142.7L1413.0,1142.3L1414.3,1143.2L1417.0,1145.9L1419.8,1147.5L1422.5,1150.1L1425.1,1151.4L1426.3,1153.0L1427.5,1153.4L1428.6,1153.2L1430.1,1153.8L1431.6,1153.3L1432.9,1152.0L1434.1,1152.2L1437.7,1148.8L1440.2,1147.3L1441.5,1145.4L1442.7,1144.4L1443.9,1144.3L1445.1,1142.5L1446.3,1141.9L1448.7,1139.4L1451.3,1137.4L1452.6,1137.2L1453.9,1136.3L1455.2,1136.2L1456.5,1136.4L1457.8,1136.2L1459.0,1137.5L1460.3,1138.1L1461.7,1139.4L1464.4,1141.1L1467.1,1144.2L1471.1,1147.6L1472.3,1147.5L1473.6,1148.3L1474.9,1148.1L1476.3,1147.8L1477.6,1146.4L1479.0,1146.7L1481.6,1144.1L1482.9,1143.6L1484.2,1142.0L1485.3,1141.2L1486.5,1140.1L1488.6,1137.0L1489.6,1136.6L1490.6,1135.4L1492.2,1132.2L1494.3,1129.2L1499.2,1117.1L1501.2,1110.2L1501.8,1109.4L1502.3,1106.7L1502.8,1106.2L1504.8,1099.0L1506.9,1093.6L1511.5,1079.3L1513.2,1076.1L1514.4,1074.7L1515.3,1075.2L1518.2,1078.6L1520.2,1083.4L1521.2,1084.9L1522.1,1085.6L1523.1,1087.0L1524.0,1087.0L1526.0,1084.3L1529.2,1074.3L1529.8,1071.3L1532.1,1066.3L1532.6,1067.0L1533.4,1066.9L1535.5,1075.7L1537.0,1085.9L1539.6,1099.1L1541.2,1104.9L1541.7,1105.8L1542.2,1105.0L1542.5,1105.1L1542.8,1103.4L1543.2,1103.4L1544.2,1099.8L1545.7,1093.3L1549.2,1075.2L1552.9,1047.5L1555.5,1032.0L1559.2,1015.2L1560.9,1009.1L1562.2,1004.9L1563.0,1003.8L1563.3,1002.2L1564.6,1001.3L1565.5,1001.7L1566.4,1002.8L1567.2,1004.7L1571.7,1017.1L1573.0,1023.3L1573.9,1025.6L1574.4,1025.3L1575.2,1025.6L1577.7,1019.3L1578.7,1020.0L1581.2,1030.3L1583.6,1043.9L1588.8,1061.1L1590.1,1063.1L1590.7,1064.9L1591.3,1065.3L1592.0,1066.3L1592.6,1066.7L1594.0,1065.6L1594.7,1065.8L1597.5,1061.1L1600.1,1051.8L1601.5,1044.1L1605.5,1011.2L1606.5,1005.8L1609.0,995.7L1611.1,989.4L1612.5,988.0L1614.2,987.1L1615.1,985.8L1618.3,986.2L1622.0,987.7L1624.8,990.2L1627.6,992.1L1629.0,993.5L1630.4,994.1L1631.7,996.0L1634.4,998.5L1637.9,1000.3L1639.0,1001.9L1641.4,1003.7L1643.7,1004.6L1644.9,1006.3L1647.2,1007.6L1650.5,1011.1L1651.6,1012.8L1652.7,1013.5L1654.6,1016.1L1655.5,1016.8L1658.0,1021.7L1658.8,1022.0L1660.4,1025.3L1662.0,1027.7L1665.8,1035.5L1668.8,1039.4L1670.7,1043.3L1673.5,1047.2L1674.4,1048.1L1675.3,1049.8L1676.2,1050.5L1677.0,1052.3L1677.9,1053.1L1679.6,1056.2L1681.3,1058.0L1682.1,1060.3L1683.6,1063.1L1685.0,1064.7L1690.4,1076.5L1691.1,1077.1L1693.1,1082.2L1694.4,1084.2L1698.5,1094.1L1700.4,1097.8L1702.4,1102.8L1704.2,1106.6L1707.0,1111.1L1707.9,1113.4L1708.8,1113.8L1709.7,1116.0L1712.2,1118.9L1714.6,1120.3L1717.4,1120.9L1720.7,1120.2L1721.9,1120.7L1723.2,1119.8L1727.4,1118.3L1728.9,1118.7L1730.3,1118.6L1731.7,1117.8L1733.3,1118.2L1734.9,1117.1L1738.0,1117.5L1741.2,1119.0L1742.8,1118.3L1744.0,1119.0L1746.5,1121.1L1748.9,1122.0L1751.4,1124.6L1752.6,1124.4L1753.8,1125.7L1755.2,1125.6L1756.6,1126.4L1758.0,1126.9L1759.3,1126.8L1760.7,1127.7L1762.1,1127.1L1763.5,1127.6L1766.3,1127.7L1767.7,1126.9L1770.4,1126.6L1774.5,1124.5L1775.9,1124.3L1777.3,1123.3L1780.0,1122.6L1784.1,1120.2L1788.3,1119.9L1789.7,1119.5L1792.4,1120.3L1793.8,1121.3L1795.2,1121.0L1796.6,1122.6L1798.0,1123.4L1799.2,1123.4L1800.5,1124.6L1804.3,1127.0L1806.7,1129.2L1807.9,1129.4L1809.0,1130.8L1810.2,1131.2L1815.3,1137.1L1816.5,1137.4L1817.8,1138.5L1819.1,1138.3L1820.5,1139.6L1825.2,1140.7L1826.8,1140.2L1831.1,1141.0L1832.7,1141.7L1834.1,1143.0L1835.4,1143.1L1841.0,1145.9L1844.0,1145.7L1847.4,1144.4L1849.1,1144.2L1850.7,1144.9L1852.2,1144.0L1854.3,1143.4" fill="none" stroke="#FF3333" stroke-width="5.1" stroke-linejoin="round"/>
<path d="M70.5,722.9L71.6,722.6L72.2,723.0L72.7,721.8L73.3,722.5L73.8,721.7L74.4,722.1L74.9,721.1L75.5,721.9L76.0,720.5L76.6,721.3L77.1,720.3L77.7,720.8L78.2,719.3L78.8,720.2L79.3,718.9L79.9,720.0L80.4,718.5L81.0,719.1L81.5,717.2L82.1,718.2L82.6,716.7L83.2,717.8L83.7,716.1L84.3,716.8L84.8,714.9L85.4,716.1L85.9,714.3L86.5,715.0L87.0,713.4L87.6,714.3L88.1,712.6L88.7,713.5L89.2,711.5L89.8,713.0L90.3,711.0L90.9,712.1L91.4,710.1L92.0,711.2L92.5,709.0L93.1,710.7L93.6,708.1L94.2,709.7L94.7,706.7L95.3,708.9L95.8,705.4L96.4,707.8L96.9,704.6L97.5,707.3L98.0,704.1L98.6,706.9L99.1,703.0L99.7,705.7L100.2,702.9L100.8,704.2L101.3,700.9L101.9,703.9L102.4,699.9L103.0,703.4L103.5,698.9L104.1,700.9L104.6,698.1L105.2,700.2L105.7,696.7L106.3,699.0L106.8,693.6L107.4,696.6L107.9,692.0L108.5,694.3L109.0,690.4L109.6,691.8L110.1,688.4L110.7,691.0L111.2,687.0L111.8,688.8L112.3,686.0L112.9,687.9L113.4,685.0L114.0,686.7L114.5,683.8L115.1,686.2L115.6,682.4L116.2,686.0L116.7,681.9L117.0,683.5L117.8,674.0L118.7,686.5L119.9,679.5L120.5,690.0L121.1,679.0L121.3,681.5L121.7,682.8L122.2,679.2L122.8,683.5L123.3,678.4L123.9,681.9L124.4,678.1L125.0,681.5L125.5,678.4L126.1,682.8L126.6,677.9L127.2,682.2L127.7,677.1L128.3,682.5L128.8,676.8L129.4,680.6L129.9,677.5L130.5,681.3L131.0,678.2L131.6,681.3L132.1,677.3L132.7,681.6L133.2,676.9L133.8,680.4L134.3,678.2L134.9,681.1L135.4,678.5L136.0,680.5L136.5,678.0L137.1,680.5L137.6,678.0L138.2,681.5L138.7,679.1L139.3,681.2L139.8,678.4L140.4,681.8L140.9,679.3L141.5,681.1L142.0,678.8L142.6,682.1L143.1,679.8L143.7,681.8L144.2,679.5L144.8,682.5L145.3,680.3L145.9,682.5L146.4,679.9L147.0,682.7L147.5,680.8L148.1,682.4L148.6,680.9L149.2,683.8L149.7,681.4L150.3,683.2L150.8,681.1L151.4,683.8L151.9,681.7L152.5,684.3L153.0,681.3L153.6,686.4L154.1,681.9L154.7,685.9L155.2,682.6L155.8,688.0L156.3,681.9L156.9,690.1L157.4,684.9L158.0,688.9L158.5,685.0L159.1,692.6L159.6,687.8L160.2,694.1L160.7,689.0L161.3,695.7L161.8,691.1L162.4,696.5L162.9,694.5L163.5,698.9L164.0,696.7L164.6,702.1L165.1,698.8L165.7,703.5L166.2,700.8L166.8,704.8L167.3,702.2L167.9,706.5L168.4,704.3L169.0,709.4L169.5,707.0L170.1,712.1L170.6,709.8L171.2,713.3L171.7,711.7L172.3,715.6L172.8,714.3L173.4,718.7L173.9,716.5L174.5,720.8L175.0,721.0L175.6,725.1L176.1,725.7L176.7,730.1L177.2,731.4L177.8,736.3L178.3,737.8L184.4,774.5L187.9,793.9L190.9,808.4L197.1,830.9L201.3,841.8L204.9,849.5L212.0,861.9L213.5,863.8L217.2,869.5L219.2,871.4L220.1,873.2L221.1,873.9L222.1,875.5L224.0,876.9L225.0,878.4L226.9,880.3L227.9,880.7L230.2,883.6L232.7,885.2L235.1,887.6L237.5,889.1L238.6,890.7L239.6,891.5L240.6,891.6L241.5,892.6L244.5,894.0L248.3,895.0L249.5,894.4L250.8,894.9L253.6,895.0L258.1,893.9L259.7,893.9L263.5,892.6L267.6,889.8L269.0,889.8L271.8,888.2L273.3,888.3L277.6,886.6L279.1,886.2L280.6,886.3L282.2,885.4L283.7,885.1L285.1,885.4L289.2,884.1L290.8,884.2L292.3,884.8L297.6,884.7L299.0,885.8L300.5,885.4L301.9,885.4L308.2,887.0L309.8,887.0L312.8,888.1L315.8,888.2L320.0,889.5L323.2,889.4L326.5,886.7L327.7,885.2L331.4,882.3L334.0,879.2L335.2,878.8L340.3,874.5L341.6,874.1L343.0,872.6L344.3,872.5L345.6,870.9L348.2,870.3L354.1,867.6L355.7,866.5L357.2,866.7L362.6,865.1L366.6,865.7L367.8,867.1L370.3,868.1L371.5,869.4L374.1,870.8L376.7,872.9L377.9,873.3L379.0,873.0L380.5,873.6L381.8,873.2L383.0,872.4L384.2,870.6L386.4,868.6L387.9,865.6L389.6,863.5L392.1,858.5L393.8,856.6L396.7,851.7L397.7,851.0L398.7,849.5L399.7,848.8L400.8,847.4L404.7,844.3L406.3,843.9L407.8,843.0L409.3,842.9L410.8,842.5L412.2,841.4L413.4,841.9L415.0,841.6L417.6,842.3L418.8,843.1L420.0,844.7L421.9,848.4L426.2,860.0L428.0,863.5L429.0,862.6L429.7,861.5L431.3,857.8L432.2,856.5L433.1,856.2L434.4,858.1L436.4,864.2L438.0,865.9L438.9,865.8L441.0,863.9L443.2,860.3L445.4,859.2L446.3,860.3L447.2,860.8L448.2,862.9L450.0,865.5L451.0,867.8L452.8,869.5L454.1,869.8L455.3,869.7L457.9,868.9L459.1,867.7L461.3,863.6L464.3,853.6L465.4,850.7L466.9,847.6L468.0,847.3L469.0,845.7L471.3,844.7L473.5,841.7L475.5,840.0L477.7,837.0L478.7,836.5L479.7,834.3L482.8,829.8L483.4,827.8L485.9,822.3L488.1,818.4L490.6,815.1L491.6,814.6L496.1,810.1L497.4,809.3L498.7,807.9L500.1,807.6L501.5,806.1L502.8,805.7L506.8,802.7L508.2,802.2L509.5,802.6L510.8,801.6L514.4,800.0L517.4,795.5L518.4,794.9L524.6,787.5L525.6,786.7L526.7,785.4L527.8,784.6L528.9,784.3L531.5,782.2L532.8,781.9L534.2,782.1L540.4,780.6L542.0,781.2L543.5,780.2L544.9,780.7L546.2,780.4L551.6,777.4L552.7,775.9L553.9,775.2L555.0,775.2L556.1,774.1L559.0,774.1L560.4,774.5L561.8,775.4L564.3,774.4L565.8,772.7L568.6,766.0L570.8,763.1L573.4,762.6L576.2,764.1L579.0,764.5L582.0,763.4L583.6,761.6L585.1,761.4L587.2,759.8" fill="none" stroke="#1262DE" stroke-width="5.1" stroke-linejoin="round"/>
<path d="M621.0,731.4L623.1,731.3L626.0,730.5L629.4,730.9L633.0,730.7L634.8,730.5L636.5,729.9L637.9,730.7L639.4,730.1L640.9,730.9L645.4,730.8L647.0,731.5L650.0,731.4L651.4,732.1L658.3,729.9L659.5,728.7L660.8,728.6L662.0,727.2L663.2,726.9L664.5,725.2L665.9,724.7L667.4,723.4L668.6,723.1L669.9,722.1L671.2,721.8L673.9,719.3L675.2,719.4L678.0,717.1L680.8,716.1L682.2,714.8L683.6,714.0L687.9,712.9L690.9,711.4L692.4,711.3L695.3,710.4L696.8,710.6L698.3,709.8L702.7,709.4L704.2,708.7L705.7,708.9L707.3,708.6L708.8,709.0L710.4,708.3L712.0,708.4L713.5,708.0L720.4,708.4L722.3,708.0L723.9,708.1L726.7,707.3L729.7,708.0L731.4,708.0L732.6,708.7L733.9,708.9L735.2,709.8L736.6,709.7L738.0,711.0L739.4,711.4L740.8,712.4L742.3,712.7L743.8,713.7L745.3,713.7L748.2,715.5L749.6,716.0L751.1,715.7L755.5,718.5L757.0,718.8L758.5,720.2L764.5,721.9L766.0,721.9L768.9,722.5L771.8,723.5L776.2,725.7L779.2,725.6L782.1,726.9L783.5,728.0L784.8,728.1L787.5,729.4L788.9,729.5L790.3,731.0L791.6,731.6L793.0,732.9L794.4,733.7L795.7,733.9L797.1,734.7L801.1,738.1L804.9,740.0L806.1,741.1L807.4,741.5L809.9,743.1L812.5,744.2L813.7,745.5L815.0,745.9L816.2,746.9L817.5,747.6L818.8,747.8L821.4,750.3L824.0,751.7L825.3,753.1L830.4,755.6L831.6,755.9L832.8,757.4L835.1,758.7L836.4,760.1L837.6,760.5L838.8,762.4L843.2,766.3L844.3,768.2L845.3,768.8L848.4,772.6L849.4,773.3L855.0,781.8L855.8,783.7L856.7,784.4L857.6,786.3L861.6,790.5L862.7,791.0L863.9,791.1L865.0,792.6L866.1,792.9L868.1,794.8L869.1,796.6L870.8,798.6L871.5,800.5L872.8,802.5L877.5,814.9L878.8,816.7L879.5,818.5L880.1,819.1L882.2,823.2L885.4,831.5L885.9,833.8L888.4,840.5L888.8,842.8L890.3,846.2L890.9,848.7L891.6,850.3L892.2,851.0L892.8,853.5L896.5,861.5L901.5,876.7L902.1,877.4L904.2,882.1L907.4,887.1L909.4,888.4L911.5,890.8L918.5,892.5L919.8,892.3L921.2,891.4L922.7,891.7L924.3,890.8L925.9,890.7L927.5,889.9L929.1,889.9L937.0,888.3L938.7,889.2L942.1,889.3L948.3,890.2L949.7,889.7L951.0,890.2L952.4,889.3L954.8,886.8L955.8,886.1L958.8,881.6L961.2,879.5L965.0,877.0L966.3,875.6L967.6,874.9L968.9,874.7L970.1,873.9L972.5,874.3L975.9,876.2L979.2,879.9L981.4,881.7L985.6,886.3L986.7,886.7L990.6,889.5L993.6,889.8L995.1,890.6L998.3,890.4L1002.8,890.8L1008.1,890.3L1012.3,888.1L1014.0,888.0L1016.2,885.9L1023.7,881.2L1025.0,879.4L1027.8,878.1L1029.2,876.4L1030.7,876.3L1032.1,875.1L1034.7,874.1L1037.5,872.2L1041.9,870.3L1050.6,867.9L1053.3,867.0L1054.6,866.0L1057.9,865.1L1061.2,865.1L1062.8,864.5L1065.8,864.3L1068.7,863.7L1072.6,863.6L1074.3,864.1L1075.8,863.7L1078.3,864.8L1080.8,864.7L1082.2,865.8L1083.8,865.8L1088.6,868.5L1091.3,870.9L1092.6,871.1L1095.4,872.9L1098.2,874.3L1099.6,875.4L1102.5,876.0L1103.9,877.3L1105.4,877.6L1108.5,878.9L1110.0,878.6L1111.5,879.7L1117.6,880.4L1119.1,881.1L1120.7,881.0L1123.9,882.1L1125.5,881.8L1127.1,882.4L1130.2,882.0L1131.7,882.3L1133.1,881.7L1134.4,882.5L1135.6,882.2L1137.5,881.6L1141.8,878.5L1143.0,878.3L1144.3,877.2L1147.0,877.4L1148.3,878.5L1152.1,880.5L1153.4,881.5L1154.6,881.9L1155.8,882.8L1158.1,885.5L1159.2,886.2L1160.2,888.3L1161.3,889.5L1164.8,890.8L1166.9,889.9L1171.6,884.6L1172.8,883.9L1181.2,873.3L1182.2,872.7L1183.1,871.1L1184.1,870.6L1185.1,869.3L1187.7,867.3L1189.0,867.0L1191.5,865.5L1192.8,865.1L1194.1,865.1L1195.2,865.7L1196.3,865.6L1198.6,867.5L1199.7,867.9L1202.0,870.8L1204.0,872.8L1204.9,874.5L1205.7,875.1L1208.3,879.8L1211.1,883.7L1212.1,883.9L1213.4,885.2L1216.2,885.3L1217.6,886.0L1220.5,885.5L1222.0,885.9L1224.8,884.6L1226.2,885.2L1234.6,880.9L1239.1,877.0L1241.4,874.0L1242.5,873.4L1244.8,871.0L1250.5,864.9L1251.6,862.8L1255.0,859.9L1256.1,859.6L1258.3,859.9L1260.7,861.4L1264.1,864.7L1265.1,866.3L1267.4,868.1L1268.5,870.0L1269.6,871.1L1270.7,871.6L1271.8,872.8L1272.9,873.0L1275.6,873.1L1277.0,872.3L1281.9,868.6L1286.1,863.7L1287.3,863.5L1289.9,861.9L1291.2,861.7L1292.7,862.1L1294.2,861.7L1295.8,862.1L1300.1,862.2L1301.4,862.9L1303.1,862.1L1304.7,861.7L1306.1,862.0L1307.5,861.7L1308.7,861.9L1311.8,864.3L1313.4,866.7L1314.9,870.1L1315.7,870.8L1319.2,876.5L1320.3,877.7L1321.8,877.8L1322.7,877.1L1327.5,872.8L1328.8,870.6L1332.5,868.5L1333.6,868.3L1334.7,868.6L1336.7,869.7L1341.3,877.4L1343.2,880.1L1344.1,880.8L1345.1,882.1L1347.1,885.5L1352.0,890.6L1353.9,892.0L1357.2,891.7L1358.3,890.9L1359.4,890.8L1362.1,889.4L1363.6,889.4L1365.1,888.9L1368.2,887.2L1371.3,886.4L1372.8,885.7L1374.3,885.7L1375.7,886.7L1377.2,886.5L1380.0,888.2L1381.5,888.5L1382.9,889.8L1388.6,892.9L1390.1,893.6L1391.5,893.6L1394.6,893.2L1397.8,893.3L1399.4,892.4L1401.0,892.3L1404.1,891.1L1405.6,891.1L1407.1,890.6L1410.2,890.8L1411.7,890.4L1413.2,891.1L1414.6,891.1L1416.1,892.0L1420.5,892.7L1422.0,892.4L1423.6,892.6L1427.8,891.6L1432.2,888.7L1435.1,887.7L1436.6,886.4L1438.0,886.4L1439.4,885.3L1440.8,885.5L1445.5,883.7L1448.4,883.7L1449.9,884.1L1451.4,883.3L1454.3,883.9L1457.3,884.1L1466.3,887.2L1467.8,888.1L1470.8,888.4L1472.2,887.8L1473.6,887.8L1478.0,886.3L1479.4,885.1L1480.8,884.6L1482.2,883.4L1483.5,883.1L1484.7,882.0L1485.8,882.1L1487.3,880.8L1489.8,880.1L1490.9,878.8L1492.0,878.7L1494.4,876.2L1497.5,873.8L1499.6,871.1L1505.1,865.4L1506.5,865.1L1511.9,860.5L1513.3,860.5L1514.6,859.6L1518.4,859.7L1519.6,861.3L1520.8,861.8L1523.2,863.7L1525.5,863.4L1526.5,861.4L1527.6,860.5L1530.8,855.7L1531.9,855.0L1533.0,855.0L1534.6,856.5L1536.2,859.7L1538.7,865.9L1541.1,870.0L1541.9,871.0L1543.2,871.0L1545.0,868.2L1546.1,865.6L1548.3,857.7L1550.1,853.3L1550.6,851.1L1551.1,850.2L1555.1,838.3L1555.7,837.4L1557.3,832.2L1558.3,829.9L1560.9,825.4L1561.8,824.4L1562.8,824.4L1564.7,826.1L1565.5,826.4L1566.4,828.6L1567.3,829.5L1571.0,836.3L1572.6,838.0L1574.0,837.9L1576.5,834.8L1577.7,834.1L1579.7,834.2L1580.4,835.0L1585.0,843.8L1589.4,851.2L1590.3,851.7L1592.1,853.7L1593.0,854.0L1595.6,853.0L1596.5,851.3L1597.4,850.8L1598.4,848.2L1599.4,846.9L1602.8,836.7L1605.4,827.3L1608.0,820.5L1610.2,816.9L1611.3,815.9L1612.4,815.3L1617.7,814.2L1620.3,814.4L1621.7,814.0L1623.1,814.5L1626.2,814.3L1629.7,815.9L1631.6,816.4L1632.8,817.3L1635.3,817.8L1636.7,819.0L1638.1,819.2L1639.6,820.2L1641.1,820.8L1642.6,822.3L1644.0,822.6L1647.0,824.6L1649.9,825.9L1651.3,827.1L1652.6,827.6L1653.9,828.7L1655.1,829.0L1658.2,831.1L1659.7,832.5L1661.1,832.8L1666.3,836.2L1667.5,836.7L1671.0,839.8L1672.4,840.2L1673.8,841.7L1675.1,842.1L1679.7,846.4L1680.9,846.9L1682.1,848.2L1683.2,848.8L1684.3,850.3L1685.4,851.0L1688.7,854.3L1689.8,854.9L1690.9,856.3L1694.1,859.3L1696.1,861.9L1700.2,866.2L1702.2,868.9L1705.6,871.2L1707.0,872.5L1708.3,873.2L1709.7,874.6L1711.1,874.5L1712.5,875.7L1713.8,875.8L1715.2,876.5L1719.9,876.9L1723.0,876.3L1726.2,876.3L1727.8,875.7L1732.5,875.3L1735.7,874.6L1737.3,875.0L1740.3,874.7L1743.2,875.7L1744.8,875.4L1746.4,876.3L1749.6,876.4L1751.1,877.5L1752.6,878.1L1754.2,877.9L1755.8,878.9L1759.0,879.4L1760.6,880.4L1762.1,880.2L1764.9,880.8L1766.5,880.7L1769.3,880.0L1770.6,878.7L1771.9,878.0L1777.3,876.2L1778.7,875.3L1783.0,874.7L1786.0,873.8L1790.5,874.0L1792.0,874.9L1793.5,875.0L1795.1,875.8L1805.5,879.3L1807.0,879.1L1808.4,879.9L1809.7,880.1L1811.2,879.9L1812.3,880.5L1813.4,881.8L1814.5,882.2L1815.6,883.4L1816.9,884.1L1818.3,885.4L1820.0,886.2L1827.0,887.1L1828.6,887.9L1835.1,888.1L1839.8,887.8L1848.4,886.4L1849.9,886.7L1852.3,885.7L1853.2,886.2" fill="none" stroke="#1262DE" stroke-width="5.1" stroke-linejoin="round"/>
<path d="M70.2,613.8L71.1,613.0L77.0,612.2L79.5,610.9L80.6,609.6L81.6,608.9L82.7,607.3L83.7,606.6L84.8,604.8L85.8,604.3L86.9,602.6L89.0,601.0L90.1,599.7L92.3,598.1L93.3,596.7L94.3,596.6L100.1,590.9L102.2,589.2L107.8,581.8L110.8,578.4L111.9,577.9L113.9,575.1L115.8,573.3L116.6,571.5L118.1,569.4L120.3,568.3L125.2,567.4L126.5,567.6L131.2,566.1L132.8,566.3L135.7,565.8L137.3,566.0L139.8,566.9L142.7,567.0L144.0,567.8L148.7,568.8L154.3,571.7L156.4,573.9L157.4,574.4L160.1,578.1L164.1,581.8L167.9,588.6L170.1,594.3L174.7,609.0L177.5,619.8L178.8,623.2L179.5,626.1L180.7,636.3L184.0,679.0L188.6,717.8L191.2,731.9L199.0,764.3L201.2,771.8L205.1,783.2L210.4,796.6L211.6,798.6L212.9,802.0L214.9,805.6L217.7,811.9L226.0,826.7L226.9,827.7L229.6,832.2L231.4,834.4L232.2,836.2L233.1,836.9L234.7,839.6L237.0,842.2L238.2,844.5L239.2,845.1L242.0,848.9L244.9,851.3L247.4,852.2L250.3,851.8L251.8,852.4L253.4,851.7L255.0,851.5L256.6,851.0L258.2,851.1L259.7,850.2L262.4,849.3L265.1,848.9L267.9,847.2L270.6,846.3L271.9,845.1L273.3,845.0L276.1,843.2L277.5,843.1L279.0,842.0L283.2,840.7L292.8,836.7L296.0,837.0L297.3,836.7L300.4,838.0L305.3,838.8L306.8,839.8L308.3,839.5L311.3,841.0L312.8,841.4L314.1,842.4L315.4,842.5L316.6,843.5L322.2,844.0L323.6,843.3L325.1,843.5L326.6,842.7L328.4,840.4L329.3,839.7L332.2,835.9L334.2,832.4L335.3,831.5L338.4,827.4L339.4,826.8L340.5,825.4L341.6,824.6L343.9,821.9L348.4,817.7L349.5,817.2L355.8,810.9L357.1,810.3L358.3,808.7L359.5,807.8L361.7,807.0L362.6,805.9L364.3,805.6L366.6,806.3L369.2,809.0L371.2,810.4L373.5,813.6L374.7,814.4L377.0,817.4L379.0,818.5L381.4,818.8L383.5,817.2L384.5,815.8L385.6,813.3L386.1,813.0L391.0,796.8L396.2,783.0L398.8,778.0L401.5,774.2L402.7,773.0L408.2,769.4L409.5,769.4L410.7,768.6L414.8,768.3L416.0,769.2L418.9,773.3L425.5,794.1L427.2,801.2L428.2,802.3L429.3,800.3L431.8,792.9L433.1,791.6L433.6,791.8L434.5,794.3L436.3,802.5L437.4,805.1L438.8,805.4L439.7,804.3L443.5,796.8L445.4,795.2L446.1,795.7L446.9,797.4L447.6,798.1L451.3,806.5L452.8,808.8L455.8,810.5L457.4,810.2L458.8,809.3L460.6,806.0L461.6,802.4L464.5,785.8L465.9,780.8L468.0,777.6L469.1,776.6L471.4,776.0L472.5,774.4L476.0,767.3L476.6,765.2L479.5,758.4L485.1,742.5L487.6,736.8L491.2,730.9L493.9,727.4L494.9,727.0L497.1,724.1L501.5,720.4L502.6,718.9L508.0,716.8L513.4,715.5L516.1,712.3L520.6,705.0L521.6,704.1L523.5,701.3L525.5,699.3L526.6,697.5L531.0,692.9L532.0,692.6L533.1,691.6L534.5,691.1L536.0,690.0L537.4,690.3L538.9,689.7L543.2,689.8L544.6,688.8L545.8,688.7L547.0,687.4L549.4,685.8L555.1,680.3L557.7,679.8L559.1,680.4L560.5,680.4L561.8,681.4L563.1,681.6L564.3,680.8L565.6,679.2L569.0,669.1L570.8,665.7L572.1,665.5L573.4,666.1L574.8,666.9L577.6,669.5L579.0,669.4L580.2,669.1L584.3,665.4L585.5,663.5L587.2,662.0" fill="none" stroke="#22A862" stroke-width="5.1" stroke-linejoin="round"/>
<path d="M621.0,626.8L623.1,625.7L624.5,626.1L626.1,624.9L631.4,624.2L633.2,623.5L636.5,623.3L639.6,623.4L641.2,624.2L642.8,624.5L644.3,624.3L645.9,624.7L647.4,625.6L649.0,625.5L650.4,626.0L655.9,624.1L657.2,623.0L658.4,622.7L659.7,621.9L661.0,620.3L663.7,619.0L665.2,617.4L666.4,617.3L667.6,615.9L670.2,614.7L677.1,609.5L679.9,608.4L682.8,606.5L685.5,605.4L687.0,605.3L688.4,604.0L689.8,604.2L691.3,603.3L697.1,601.3L702.7,600.3L704.3,599.6L705.9,599.7L712.1,598.5L713.6,598.6L715.1,598.4L716.5,597.9L717.9,598.2L719.2,597.7L722.3,598.2L725.4,597.8L729.7,598.3L731.4,599.3L735.3,599.7L736.8,600.9L738.2,601.1L739.7,601.9L745.5,603.7L746.8,604.6L748.2,604.7L749.5,605.9L750.8,605.8L752.1,606.4L753.3,607.3L754.6,608.8L757.2,610.4L761.4,611.6L762.8,612.7L767.2,612.6L771.8,613.8L774.8,615.1L777.7,615.4L779.1,616.3L780.4,616.5L781.7,617.5L783.0,617.8L784.3,619.2L785.6,619.3L788.1,620.3L793.2,624.1L794.5,624.6L797.0,626.6L800.8,629.5L802.0,631.2L803.3,632.2L807.2,634.3L811.0,637.2L812.3,637.6L813.6,638.9L814.9,639.3L818.9,642.6L820.2,643.0L822.8,646.0L825.2,647.6L827.6,650.0L828.8,650.3L834.2,656.1L835.3,656.8L836.3,658.5L838.4,660.3L841.4,664.3L842.4,666.2L844.4,668.1L846.4,670.6L850.2,676.3L852.8,679.5L860.4,691.9L867.4,701.8L868.9,704.7L872.3,712.5L872.8,712.9L878.2,728.5L881.7,739.7L889.0,767.6L893.7,788.3L899.0,816.5L902.8,830.6L905.7,838.8L908.7,844.8L914.4,850.3L915.7,850.7L917.3,850.2L918.5,850.1L921.2,849.0L924.2,846.8L928.5,844.5L930.1,844.6L931.6,843.9L934.4,843.8L935.9,843.3L937.5,843.3L940.3,844.1L943.3,845.3L944.8,846.3L946.2,846.4L947.6,847.1L948.8,847.2L952.4,845.9L954.4,844.2L956.7,840.5L959.7,832.0L960.9,828.9L962.3,826.6L963.3,825.6L964.4,823.8L967.8,820.7L970.2,819.8L971.3,820.4L972.4,820.1L976.9,824.3L980.3,828.8L988.4,841.9L992.0,844.4L993.4,845.9L994.9,846.1L996.4,847.3L997.8,847.7L999.2,847.5L1000.5,848.1L1003.7,848.5L1005.1,848.4L1008.0,846.4L1010.6,845.1L1011.6,843.9L1012.7,843.6L1013.7,842.0L1014.8,841.4L1017.2,838.2L1022.2,833.0L1023.2,831.3L1024.2,830.8L1026.3,827.6L1028.6,825.3L1029.7,824.8L1030.9,823.7L1033.3,821.1L1037.1,818.5L1038.4,817.1L1041.1,815.8L1045.2,812.7L1047.7,811.6L1048.9,810.2L1051.8,809.3L1053.4,808.3L1056.4,808.1L1057.8,807.3L1059.3,807.4L1060.7,807.0L1062.1,807.1L1063.6,806.5L1066.7,806.2L1068.3,805.2L1072.9,804.4L1074.4,804.6L1077.1,804.2L1078.8,804.2L1081.6,804.9L1086.1,807.3L1087.1,808.3L1089.2,809.6L1090.3,811.1L1091.4,811.7L1092.6,813.3L1093.7,814.3L1094.9,814.8L1098.5,818.1L1099.6,819.0L1101.0,819.4L1102.3,820.8L1106.5,822.4L1107.9,823.7L1109.2,824.2L1110.5,824.3L1113.1,825.4L1117.6,828.0L1121.7,829.1L1123.0,830.0L1129.2,831.2L1133.3,831.4L1136.2,832.8L1139.8,830.9L1142.1,828.2L1144.5,826.3L1145.7,825.6L1147.0,825.5L1149.7,827.0L1151.1,828.2L1152.4,828.6L1154.5,831.1L1161.3,841.9L1162.0,844.1L1163.6,846.1L1164.8,845.9L1165.5,845.2L1169.8,840.3L1171.8,836.4L1172.8,835.2L1175.9,830.1L1178.3,825.2L1179.8,822.7L1183.0,816.4L1184.4,814.6L1185.1,812.9L1188.7,808.9L1189.9,807.0L1191.0,806.5L1192.1,805.2L1194.1,804.2L1196.5,804.2L1198.7,805.9L1200.9,808.5L1207.0,823.3L1209.0,827.3L1209.7,829.6L1211.1,832.6L1212.6,834.9L1214.4,837.2L1218.9,838.5L1220.6,838.5L1224.0,837.7L1229.4,835.7L1230.6,834.2L1233.1,833.2L1234.4,831.5L1236.9,829.2L1239.9,824.6L1243.7,816.8L1244.4,815.9L1245.2,813.8L1249.0,807.0L1249.9,806.1L1250.8,803.8L1254.3,797.9L1255.9,796.1L1256.8,794.6L1258.3,793.7L1260.0,795.0L1261.6,797.1L1264.6,803.9L1270.4,814.5L1272.9,816.6L1274.9,815.9L1280.0,810.2L1285.4,802.7L1286.4,802.1L1287.5,800.7L1288.6,800.1L1295.8,800.5L1300.1,801.7L1301.4,801.2L1303.1,801.5L1306.1,799.8L1308.7,799.3L1310.0,800.3L1310.7,801.6L1311.5,802.1L1312.1,803.4L1315.3,811.2L1318.8,821.2L1320.0,823.3L1320.7,823.7L1322.4,823.0L1323.3,822.0L1325.2,819.0L1328.1,815.2L1332.8,807.6L1334.7,806.6L1335.5,807.0L1336.3,807.6L1338.8,811.1L1343.9,822.8L1344.4,823.6L1349.1,836.5L1351.7,842.3L1354.4,846.7L1355.3,847.6L1357.2,848.5L1359.8,848.5L1361.2,847.2L1362.7,846.5L1368.1,842.3L1369.3,841.8L1373.1,838.4L1374.3,838.5L1375.4,838.0L1378.0,838.5L1383.9,843.9L1386.6,847.9L1390.0,850.7L1391.5,851.0L1395.2,849.9L1398.1,849.4L1401.2,847.8L1402.7,846.6L1405.8,846.1L1407.2,845.4L1408.6,845.7L1410.2,845.4L1411.7,846.3L1413.3,846.2L1416.2,847.9L1417.7,848.3L1419.2,849.4L1424.8,849.4L1427.3,847.9L1428.6,847.6L1431.1,845.3L1432.4,844.6L1434.8,841.9L1436.1,841.5L1438.6,839.7L1440.1,839.5L1443.0,838.0L1446.0,837.6L1447.4,836.9L1448.9,836.6L1455.0,837.2L1457.8,837.9L1463.7,841.2L1469.4,843.4L1473.5,843.0L1474.9,841.6L1476.2,841.4L1477.5,840.6L1478.8,839.0L1482.6,836.5L1485.8,833.3L1487.3,833.0L1493.1,828.9L1495.1,826.4L1497.3,822.7L1501.2,814.4L1502.0,813.5L1505.1,807.9L1509.5,801.5L1512.7,798.4L1513.8,796.9L1517.1,796.0L1518.4,797.1L1519.6,798.9L1523.2,802.4L1524.4,802.4L1525.3,802.1L1527.8,797.2L1530.4,791.4L1532.1,789.2L1533.0,789.7L1534.5,792.0L1536.6,798.9L1538.7,807.5L1540.6,813.4L1542.1,814.6L1542.7,814.4L1544.2,811.4L1545.8,806.3L1550.6,785.9L1553.8,769.8L1556.5,758.3L1559.9,749.6L1563.2,746.4L1564.0,747.0L1564.6,746.9L1565.3,747.8L1569.0,758.1L1571.5,762.9L1574.0,762.5L1576.5,758.9L1577.8,758.2L1579.6,759.0L1581.5,762.8L1585.3,772.8L1589.8,782.9L1592.2,786.1L1593.8,786.1L1594.6,785.8L1597.0,782.2L1599.8,774.9L1604.6,751.7L1608.4,740.4L1611.4,735.2L1612.3,734.7L1614.4,732.7L1615.6,732.6L1616.9,731.8L1618.3,732.0L1619.8,731.7L1621.3,731.7L1626.2,732.9L1629.8,734.6L1631.6,735.1L1632.8,735.8L1635.2,736.4L1636.5,737.1L1637.9,738.5L1639.2,738.7L1640.6,739.9L1642.0,740.3L1643.4,741.9L1644.8,742.4L1647.6,744.1L1657.6,752.0L1660.0,754.7L1663.3,757.7L1665.4,760.4L1666.3,760.9L1668.2,763.5L1671.0,766.3L1673.1,769.5L1675.1,771.3L1676.9,774.3L1683.0,781.8L1687.6,788.4L1688.5,789.0L1694.0,796.3L1695.0,798.3L1695.9,799.0L1696.9,800.8L1698.8,803.0L1704.2,811.1L1711.2,819.0L1712.1,819.1L1713.0,820.3L1714.3,821.2L1717.9,823.1L1720.7,823.7L1723.1,823.5L1724.4,822.8L1727.2,822.6L1730.1,821.4L1731.7,821.6L1733.0,820.7L1734.5,821.0L1736.0,820.8L1739.1,820.3L1740.7,819.6L1742.2,819.8L1743.6,819.2L1746.1,820.0L1747.7,819.6L1753.8,823.9L1759.2,825.6L1760.7,825.8L1762.1,825.6L1764.9,826.5L1766.4,826.0L1769.1,826.3L1770.5,825.5L1771.8,825.7L1773.3,824.8L1774.8,824.9L1777.4,823.9L1780.1,822.0L1785.6,819.8L1790.0,819.4L1793.0,820.2L1794.4,820.1L1795.7,820.9L1796.9,820.9L1799.3,822.8L1800.3,824.2L1802.4,825.6L1805.0,826.5L1808.0,825.7L1811.2,826.2L1813.1,828.1L1815.1,830.8L1816.1,831.5L1817.1,833.6L1819.1,835.8L1821.6,836.8L1824.7,836.8L1827.8,836.1L1830.4,836.7L1833.1,838.0L1834.7,837.9L1836.6,838.4L1839.4,838.0L1841.0,838.4L1842.8,837.6L1848.1,836.8L1849.7,837.1L1852.3,836.7L1853.2,836.2" fill="none" stroke="#22A862" stroke-width="5.1" stroke-linejoin="round"/>
<path d="M70.5,503.4L71.6,502.9L72.2,503.6L72.7,501.8L73.3,502.9L73.8,501.7L74.4,502.4L74.9,500.9L75.5,502.3L76.0,500.1L76.6,501.6L77.1,500.1L77.7,501.0L78.2,498.8L78.8,500.4L79.3,498.5L79.9,500.4L80.4,498.2L81.0,499.3L81.5,496.4L82.1,498.2L82.6,495.9L83.2,497.9L83.7,495.3L84.3,496.6L84.8,493.7L85.4,495.7L85.9,492.9L86.5,494.2L87.0,491.8L87.6,493.3L88.1,490.6L88.7,492.2L89.2,489.0L89.8,491.5L90.3,488.4L90.9,490.2L91.4,487.0L92.0,488.9L92.5,485.4L93.1,488.0L93.6,483.9L94.2,486.4L94.7,481.6L95.3,485.1L95.8,479.6L96.4,483.3L96.9,478.3L97.5,482.6L98.0,477.4L98.6,481.8L99.1,475.6L99.7,480.0L100.2,475.6L100.8,477.8L101.3,472.5L101.9,477.4L102.4,471.2L103.0,477.0L103.5,469.9L104.1,473.4L104.6,469.4L105.2,473.2L105.7,468.2L106.3,472.7L106.8,465.3L107.4,471.1L107.9,465.0L108.5,469.8L109.0,464.5L109.6,467.3L110.1,462.5L110.7,467.1L111.2,461.2L111.8,464.5L112.3,460.4L112.9,463.8L113.4,459.4L114.0,462.4L114.5,458.1L115.1,462.2L115.6,456.3L116.2,462.3L116.7,456.0L117.0,458.5L117.8,445.0L118.7,461.5L120.4,453.8L121.0,469.0L121.8,455.8L122.2,452.6L122.8,459.4L123.3,451.3L123.9,457.0L124.4,450.9L125.0,456.4L125.5,451.4L126.1,458.5L126.6,450.7L127.2,457.5L127.7,449.3L128.3,458.0L128.8,448.9L129.4,455.0L129.9,450.0L130.5,456.1L131.0,451.1L131.6,456.1L132.1,449.6L132.7,456.6L133.2,449.0L133.8,454.5L134.3,451.0L134.9,455.6L135.4,451.4L136.0,454.6L136.5,450.6L137.1,454.5L137.6,450.4L138.2,455.9L138.7,452.1L139.3,455.2L139.8,450.8L140.4,456.0L140.9,451.9L141.5,454.6L142.0,450.9L142.6,456.0L143.1,452.2L143.7,455.3L144.2,451.4L144.8,456.1L145.3,452.5L145.9,456.0L146.4,451.7L147.0,456.0L147.5,453.1L148.1,455.4L148.6,453.0L149.2,457.5L149.7,453.6L150.3,456.3L150.8,452.9L151.4,457.0L151.9,453.5L152.5,457.5L153.0,452.6L153.6,460.5L154.1,453.2L154.7,459.5L155.2,454.1L155.8,462.6L156.3,452.6L156.9,465.3L157.4,456.7L158.0,462.6L158.5,456.0L159.1,467.4L159.6,459.0L160.2,468.3L160.7,459.4L161.3,469.4L161.8,461.3L162.4,469.2L162.9,465.6L163.5,472.2L164.0,468.3L164.6,476.5L165.1,471.0L165.7,478.0L166.2,473.4L166.8,479.5L167.3,475.0L167.9,481.6L168.4,477.6L169.0,485.5L169.5,481.4L170.1,489.2L170.6,485.3L171.2,490.9L171.7,488.5L172.3,495.0L172.8,493.0L173.4,499.9L173.9,495.9L174.5,502.1L175.0,501.4L175.6,506.5L176.1,505.9L176.7,510.9L177.2,510.6L177.8,516.1L178.3,515.7L178.9,520.3L179.4,520.9L180.0,525.4L181.6,533.3L187.9,573.5L192.8,602.8L198.8,643.7L201.1,654.2L203.8,663.3L204.3,664.0L205.4,667.7L205.9,668.6L206.4,671.1L207.0,671.6L210.4,681.5L211.6,683.4L214.2,689.4L214.9,691.7L215.6,692.2L218.2,698.8L218.8,699.2L221.1,704.8L222.6,707.5L223.2,710.0L223.8,710.4L224.9,714.1L228.6,721.6L229.4,722.1L231.1,725.2L232.9,727.3L233.8,729.3L234.6,729.6L235.5,731.5L236.3,732.1L237.0,733.8L237.8,734.5L239.1,738.5L239.8,739.0L242.3,745.4L243.0,745.9L243.8,747.6L245.0,748.1L246.2,749.2L248.7,750.1L250.1,750.2L251.5,750.8L252.9,750.2L257.0,751.2L258.4,750.5L259.9,750.8L264.2,749.2L265.5,749.5L268.0,747.5L270.5,746.4L273.1,744.6L275.6,742.2L277.0,742.5L278.5,740.8L279.9,741.3L284.2,738.7L285.6,738.1L286.9,738.7L288.5,737.3L289.9,736.6L291.3,736.7L294.2,735.5L296.0,736.0L297.3,736.0L298.8,736.9L300.4,736.4L302.0,737.0L305.3,739.1L306.8,738.9L308.3,740.4L309.6,739.9L312.8,742.3L318.0,743.9L322.2,744.3L323.6,745.0L326.6,743.5L328.3,741.7L329.9,739.6L331.7,736.2L332.5,735.5L334.4,732.3L335.4,731.5L336.4,729.5L339.2,727.2L342.2,722.8L343.3,722.5L344.3,720.5L347.5,717.1L348.5,716.4L350.6,713.5L351.8,712.8L352.9,710.9L354.1,710.5L357.6,706.1L358.7,705.3L359.8,703.9L361.7,702.3L362.6,702.4L364.3,701.7L366.6,702.4L367.8,704.0L369.2,705.0L370.1,706.5L371.0,707.2L373.0,710.1L374.1,712.4L377.2,715.9L378.1,717.7L380.3,717.4L381.4,718.0L385.6,712.5L388.5,704.1L391.5,693.3L398.0,677.4L398.8,676.2L400.3,674.8L401.4,672.8L402.7,672.1L404.1,670.2L405.5,669.8L406.9,668.2L408.4,667.6L409.8,666.5L411.1,666.3L412.3,665.0L414.9,665.0L416.1,665.9L417.1,666.0L419.0,668.5L420.0,670.5L422.8,679.4L423.8,684.1L426.6,694.1L428.2,697.5L430.0,695.2L432.5,688.2L433.6,688.7L434.1,689.7L436.2,696.8L437.3,700.0L438.0,700.7L439.9,699.2L442.1,695.3L444.3,692.3L445.4,691.9L447.6,695.2L451.3,704.5L452.8,706.5L454.3,707.1L455.8,708.2L458.8,707.0L460.2,705.1L461.3,701.5L462.6,695.3L464.7,682.1L466.9,674.7L467.8,674.7L469.7,673.6L471.5,671.7L473.6,667.8L474.4,667.1L476.7,662.1L477.4,661.5L478.0,659.3L478.6,658.7L481.2,653.0L481.8,652.3L483.9,646.8L486.6,633.8L488.4,629.6L489.1,629.1L493.2,621.9L494.2,621.5L499.5,615.6L500.8,615.4L503.6,614.2L505.0,613.1L509.0,611.0L510.2,609.2L512.0,607.7L512.8,606.2L513.7,605.6L516.7,599.4L517.5,598.1L518.3,597.6L519.1,596.5L520.0,594.5L521.0,594.1L522.0,591.9L523.0,590.9L524.0,589.2L525.0,588.8L527.1,585.2L528.2,585.1L529.3,583.3L530.4,582.8L531.5,581.7L534.3,580.4L540.3,579.1L541.8,579.4L543.2,578.8L544.6,578.8L548.7,575.2L550.0,574.9L553.8,571.0L555.0,571.3L557.7,570.1L561.8,572.6L563.1,573.0L564.3,572.2L565.6,570.4L568.4,561.9L570.8,556.9L573.4,557.1L577.6,559.3L580.2,557.8L581.6,557.5L582.9,556.0L584.3,555.5L585.5,553.6L587.2,552.1" fill="none" stroke="#B066E2" stroke-width="5.1" stroke-linejoin="round"/>
<path d="M621.0,507.1L623.1,506.3L624.5,506.8L626.1,506.1L627.8,506.0L629.6,505.2L633.2,504.9L634.9,504.2L636.5,504.2L638.1,503.7L639.6,504.4L641.2,504.2L644.3,505.7L645.9,505.5L647.4,506.1L650.4,506.2L651.9,506.7L653.3,505.8L655.9,504.8L657.2,503.7L658.4,503.3L661.0,501.7L662.3,500.0L665.2,498.4L667.5,496.6L671.1,495.1L676.2,491.8L680.1,488.7L682.8,487.9L684.2,486.5L685.6,486.4L687.0,485.0L688.4,485.1L691.4,483.6L692.9,482.5L694.4,482.4L695.8,480.8L698.7,480.2L700.1,479.1L701.4,478.9L702.7,478.2L715.2,477.1L718.1,476.1L722.9,475.8L724.5,475.1L726.1,474.9L727.5,475.1L728.9,474.1L733.0,475.1L734.0,474.8L734.9,475.5L736.1,477.2L738.0,478.3L740.2,480.9L741.5,480.8L742.9,482.0L744.4,481.4L747.5,483.6L750.5,483.8L754.6,486.3L757.6,489.1L760.1,490.4L762.6,489.9L765.7,491.3L769.8,490.4L771.3,492.2L774.5,495.0L776.1,495.0L779.2,494.2L780.7,494.6L783.5,496.8L784.8,497.3L786.1,497.3L787.4,497.8L788.7,497.7L790.0,499.3L791.3,499.4L792.5,501.2L793.8,501.5L795.0,503.1L796.3,503.2L800.2,506.3L802.7,509.8L805.3,511.3L807.9,512.1L809.1,513.2L810.4,513.5L814.2,516.7L816.6,518.3L817.8,518.2L819.1,519.4L821.5,522.6L822.7,524.7L823.9,525.5L825.1,527.4L826.2,528.3L827.4,528.5L829.7,530.0L830.9,530.2L833.1,532.7L834.3,534.7L836.5,537.2L838.6,538.6L839.6,540.9L842.6,544.9L843.4,545.5L846.6,550.8L847.4,551.5L850.5,557.0L851.2,557.5L853.5,562.8L854.3,563.4L856.6,568.9L858.1,570.6L859.6,573.9L861.1,576.0L861.8,576.1L862.5,576.9L863.2,578.1L865.0,582.7L865.6,583.5L866.6,587.5L867.1,588.3L870.5,601.8L872.1,604.0L872.8,606.1L874.8,608.9L875.4,611.2L878.0,616.9L878.6,617.0L881.0,621.4L881.6,621.9L884.6,630.6L886.7,638.1L890.1,652.8L903.0,719.9L906.4,734.3L907.6,737.5L908.9,738.9L909.5,740.5L910.2,740.7L911.9,743.1L912.9,743.9L913.9,745.7L915.0,746.3L916.2,747.8L919.0,748.4L920.2,748.3L922.9,747.1L928.9,742.8L932.9,740.5L936.0,740.4L938.4,741.5L941.4,741.5L942.7,741.9L944.1,742.9L945.5,743.0L947.1,743.9L948.6,744.2L950.2,743.7L953.0,744.1L954.3,742.9L957.0,739.0L958.8,734.6L961.1,727.1L964.8,720.0L965.8,718.5L966.8,717.9L968.8,714.4L970.7,712.8L973.7,711.6L974.7,711.7L975.7,713.4L976.7,714.1L978.8,718.0L980.0,718.8L982.1,723.4L983.6,725.3L987.5,733.9L989.1,736.4L989.9,737.1L990.7,738.7L991.9,739.5L993.1,741.3L994.3,741.9L996.7,743.9L1000.3,745.3L1001.5,746.5L1003.0,746.3L1004.6,747.1L1006.1,747.2L1007.6,746.3L1009.1,746.5L1010.7,746.1L1012.2,744.6L1013.2,744.7L1015.0,742.9L1018.7,738.3L1020.7,734.8L1023.7,731.3L1024.6,729.5L1025.4,729.2L1027.3,726.0L1029.2,724.3L1030.1,722.0L1032.1,719.7L1033.1,718.0L1034.0,716.8L1035.0,716.5L1037.0,713.8L1037.9,713.4L1039.2,711.4L1041.7,709.6L1043.0,708.0L1044.3,708.0L1048.1,704.6L1050.5,703.2L1051.7,703.3L1057.3,699.6L1061.4,698.4L1062.8,697.4L1064.3,697.8L1067.2,696.3L1068.7,695.9L1070.3,696.1L1071.9,695.1L1073.4,695.0L1075.0,694.2L1076.5,694.9L1078.0,694.0L1083.5,695.3L1085.9,696.7L1091.5,702.4L1092.6,702.7L1093.6,703.7L1094.7,705.6L1095.8,706.0L1096.9,708.1L1097.9,708.5L1101.1,712.2L1102.2,712.5L1103.6,714.4L1104.9,714.3L1106.3,714.9L1107.7,716.4L1109.0,716.4L1110.4,717.4L1111.7,717.4L1112.9,718.7L1114.2,719.0L1115.4,719.7L1116.6,720.9L1117.8,721.3L1119.0,722.5L1120.2,722.6L1121.5,723.9L1126.3,723.4L1129.5,723.6L1131.0,723.1L1133.6,724.3L1135.3,727.2L1138.3,725.4L1141.7,720.6L1144.0,718.7L1146.3,717.8L1148.9,719.4L1151.4,721.7L1152.6,722.3L1154.6,724.5L1155.5,726.3L1156.3,727.1L1157.8,729.9L1162.4,738.8L1164.7,744.2L1166.5,745.3L1167.4,744.5L1168.3,744.4L1169.2,743.5L1171.2,741.2L1173.1,738.1L1175.1,733.8L1175.7,733.5L1178.4,725.7L1180.0,722.1L1181.2,718.0L1183.7,712.6L1187.3,706.7L1188.3,705.9L1191.3,700.8L1192.2,699.8L1193.2,699.4L1194.0,697.7L1195.5,696.4L1197.0,696.0L1198.0,696.5L1201.2,702.8L1206.3,721.0L1208.0,726.0L1208.7,726.7L1210.2,730.2L1212.7,732.9L1215.0,733.5L1216.5,734.7L1219.6,735.4L1221.2,734.5L1222.8,734.3L1224.4,734.5L1225.6,733.5L1226.8,733.4L1229.3,731.6L1231.7,729.1L1234.0,727.4L1237.6,722.4L1240.7,715.9L1241.5,715.3L1244.4,709.7L1245.1,707.5L1245.8,706.8L1248.5,700.3L1251.2,696.1L1252.1,693.8L1253.1,692.7L1255.0,689.0L1256.0,688.6L1257.8,686.0L1259.7,686.2L1261.5,687.3L1263.3,690.1L1265.1,693.9L1265.7,694.3L1269.4,705.0L1271.5,707.7L1275.0,707.4L1276.3,705.9L1277.6,705.2L1278.9,703.6L1280.1,702.6L1281.8,699.6L1283.4,697.8L1286.0,692.8L1286.8,692.2L1287.8,690.6L1290.1,689.8L1293.2,689.2L1296.4,690.6L1297.9,690.7L1301.1,690.0L1302.7,688.9L1304.3,688.6L1307.2,687.1L1308.6,688.1L1309.5,688.3L1311.2,691.0L1312.0,691.5L1312.7,694.0L1314.2,696.5L1315.5,699.9L1319.8,713.5L1321.4,716.2L1323.8,714.3L1327.9,704.7L1328.7,703.8L1329.5,701.3L1331.9,696.7L1333.5,694.6L1335.2,694.4L1336.1,694.7L1340.7,702.5L1341.2,704.5L1341.7,704.9L1344.2,711.9L1344.7,714.4L1347.5,721.4L1348.7,725.6L1349.3,726.1L1355.0,740.3L1357.2,744.8L1358.0,745.1L1359.3,747.5L1361.3,748.4L1362.6,748.2L1363.8,747.4L1367.4,742.6L1369.8,740.1L1371.1,739.7L1372.3,737.8L1374.8,736.1L1377.2,735.5L1378.4,735.8L1379.6,735.6L1380.8,736.4L1383.3,739.4L1386.7,742.1L1387.6,743.3L1388.5,745.5L1392.8,749.8L1395.4,749.7L1396.7,750.0L1399.4,748.0L1400.9,747.7L1405.5,744.9L1407.0,744.5L1408.5,743.5L1410.0,743.8L1411.5,743.4L1412.9,744.1L1414.4,744.1L1417.4,745.4L1418.8,746.6L1420.3,748.4L1421.8,749.1L1424.6,751.2L1426.0,751.1L1427.3,752.0L1430.1,752.5L1432.7,751.7L1435.2,750.3L1438.9,747.2L1441.5,746.3L1442.8,744.8L1445.4,744.0L1446.8,742.9L1448.2,742.5L1449.6,740.8L1451.0,740.1L1452.4,740.4L1453.7,739.4L1455.1,738.9L1459.2,739.9L1460.5,741.5L1463.2,742.9L1465.9,744.9L1467.3,746.5L1468.6,746.9L1470.1,747.9L1471.5,748.2L1472.9,748.1L1477.3,746.9L1480.3,744.6L1481.8,744.3L1483.3,743.3L1484.7,741.8L1486.1,741.5L1487.4,739.9L1488.6,739.6L1492.0,736.7L1493.9,734.6L1494.9,732.9L1495.7,732.4L1497.5,729.9L1500.1,724.9L1501.5,723.3L1502.2,720.9L1504.3,717.0L1505.0,714.8L1506.4,712.8L1508.4,707.8L1510.1,704.6L1512.5,701.7L1513.5,699.5L1514.4,699.3L1515.4,698.4L1516.5,698.8L1517.5,698.5L1518.5,700.5L1521.7,704.9L1522.8,705.1L1524.0,704.6L1525.4,703.2L1527.7,698.8L1530.1,692.4L1531.6,689.4L1532.4,689.3L1533.1,688.1L1534.3,687.9L1536.0,691.4L1540.8,709.2L1541.6,715.1L1542.0,716.4L1542.6,716.7L1543.3,716.0L1544.8,711.1L1550.8,684.0L1554.6,663.7L1556.5,655.4L1558.8,648.7L1561.3,643.9L1563.0,641.6L1564.7,641.4L1567.0,645.9L1568.2,650.1L1568.8,651.2L1570.0,655.3L1571.7,659.7L1572.2,659.6L1573.2,660.5L1574.1,659.4L1575.1,657.8L1576.0,655.3L1577.8,652.5L1578.7,652.5L1579.9,653.8L1580.4,654.7L1583.9,665.5L1585.7,669.6L1589.4,680.4L1592.0,684.8L1593.4,685.1L1594.1,683.7L1595.7,682.5L1596.4,680.2L1597.2,679.3L1601.1,667.5L1605.2,643.8L1607.0,636.3L1610.6,624.7L1613.3,620.4L1614.2,620.4L1615.1,618.8L1616.2,619.1L1617.5,618.3L1618.8,618.3L1621.7,619.0L1624.9,620.2L1626.5,620.2L1629.7,621.9L1631.3,622.0L1634.4,623.6L1635.7,624.6L1637.0,624.8L1638.3,625.7L1639.6,626.0L1640.9,626.7L1642.2,627.5L1643.5,629.1L1646.1,630.1L1647.4,631.9L1648.7,632.5L1651.2,634.9L1653.7,636.0L1654.8,636.9L1657.2,639.9L1658.3,640.2L1659.5,641.3L1662.9,645.6L1664.0,646.0L1669.1,651.9L1670.1,653.7L1671.0,654.1L1672.2,655.4L1673.4,657.3L1677.4,662.1L1678.3,662.6L1682.1,668.1L1683.0,669.1L1684.0,669.5L1684.9,671.5L1689.6,678.1L1690.5,678.5L1692.3,681.7L1693.1,682.5L1693.9,683.8L1696.2,689.0L1697.7,691.1L1701.2,698.8L1701.9,699.1L1706.0,707.4L1706.8,708.2L1709.0,712.1L1709.7,712.3L1710.9,714.4L1711.8,715.0L1712.7,716.7L1713.8,716.3L1716.5,717.9L1717.9,717.3L1721.2,717.4L1722.9,717.0L1724.6,717.8L1727.6,716.6L1729.0,717.0L1731.8,716.2L1734.5,716.2L1735.9,715.1L1737.3,715.8L1738.9,715.2L1740.5,716.1L1742.0,715.8L1743.6,716.5L1745.2,716.0L1746.7,717.3L1748.3,717.2L1749.7,718.0L1751.0,718.2L1755.2,721.5L1756.5,721.4L1759.3,723.3L1760.9,723.5L1762.5,723.0L1765.6,722.6L1767.2,722.5L1768.8,723.1L1770.4,721.7L1773.2,721.6L1774.5,721.1L1775.9,719.7L1778.6,718.9L1780.0,717.6L1781.4,717.6L1782.8,716.3L1785.6,715.5L1786.9,714.6L1792.5,713.3L1793.9,713.3L1795.3,714.6L1799.4,716.6L1800.8,718.0L1803.5,719.5L1804.7,720.7L1806.0,721.2L1807.3,722.4L1808.6,722.4L1809.9,724.2L1811.2,724.5L1812.4,725.3L1814.5,727.2L1816.6,729.9L1819.1,734.3L1821.1,736.5L1822.4,736.7L1826.8,735.5L1828.3,734.7L1829.8,733.5L1832.4,734.1L1833.5,735.1L1835.7,736.1L1837.1,737.1L1838.8,736.6L1840.1,736.7L1841.6,737.8L1845.2,737.4L1848.8,737.8L1850.5,737.3L1852.1,737.7L1853.3,737.1L1854.3,737.6" fill="none" stroke="#B066E2" stroke-width="5.1" stroke-linejoin="round"/>
<path d="M70.5,394.9L71.6,394.5L72.2,396.3L72.7,392.6L73.3,395.4L73.8,392.8L74.4,394.8L74.9,391.7L75.5,395.1L76.0,390.6L76.6,394.2L77.1,391.3L77.7,393.7L78.2,389.1L78.8,393.0L79.3,389.2L79.9,393.9L80.4,389.3L81.0,392.5L81.5,386.4L82.1,390.9L82.6,386.3L83.2,391.5L83.7,386.2L84.3,389.6L84.8,383.6L85.4,389.0L85.9,383.1L86.5,386.8L87.0,381.9L87.6,386.0L88.1,380.6L88.7,384.9L89.2,378.4L89.8,384.7L90.3,378.3L90.9,383.2L91.4,376.7L92.0,381.7L92.5,374.6L93.1,381.3L93.6,372.6L94.2,379.3L94.7,369.1L95.3,377.9L95.8,366.2L96.4,375.6L96.9,364.9L97.5,375.6L98.0,364.7L98.6,375.7L99.1,362.4L99.7,373.3L100.2,364.2L100.8,370.1L101.3,359.1L101.9,371.2L102.4,358.1L103.0,372.2L103.5,357.1L104.1,366.1L104.6,358.0L105.2,367.7L105.7,357.3L106.3,368.5L106.8,352.5L107.4,366.8L107.9,353.8L108.5,365.7L109.0,354.5L109.6,361.8L110.1,351.6L110.7,363.0L111.2,350.4L111.8,358.7L112.3,350.0L112.9,358.6L113.4,349.1L114.0,356.6L114.5,347.4L115.1,357.3L115.6,344.3L116.2,358.6L116.7,344.6L117.0,350.5L117.8,322.0L118.7,353.5L120.4,345.6L121.0,375.0L122.2,340.5L122.8,356.2L123.3,338.0L123.9,351.3L124.4,337.6L125.0,350.4L125.5,339.1L126.1,355.5L126.6,338.1L127.2,353.8L127.7,335.3L128.3,355.4L128.8,334.7L129.4,348.9L129.9,337.6L130.5,351.8L131.0,340.6L131.6,352.0L132.1,337.5L132.7,353.5L133.2,336.3L133.8,349.1L134.3,341.3L134.9,351.9L135.4,342.4L136.0,349.8L136.5,340.8L137.1,349.8L137.6,340.5L138.2,353.1L138.7,344.4L139.3,351.7L139.8,341.6L140.4,353.6L140.9,343.9L141.5,350.2L142.0,341.5L142.6,353.1L143.1,344.1L143.7,350.9L144.2,341.7L144.8,352.2L145.3,343.7L145.9,351.2L146.4,341.0L147.0,350.6L147.5,343.7L148.1,348.8L148.6,343.2L149.2,353.3L149.7,344.3L150.3,350.6L150.8,342.8L151.4,352.2L151.9,344.4L152.5,353.3L153.0,342.1L153.6,359.9L154.1,343.1L154.7,357.1L155.2,344.2L155.8,362.8L156.3,339.1L156.9,367.3L157.4,346.7L158.0,359.1L158.5,342.8L159.1,367.7L159.6,347.3L160.2,367.1L160.7,345.3L161.3,366.7L161.8,346.9L162.4,363.4L162.9,353.5L163.5,367.0L164.0,356.7L164.6,373.7L165.1,359.5L165.7,373.8L166.2,361.5L166.8,373.7L167.3,361.5L167.9,374.9L168.4,363.9L169.0,380.0L169.5,368.8L170.1,384.5L170.6,373.7L171.2,384.7L171.7,377.2L172.3,389.9L172.8,383.3L173.4,397.1L173.9,386.0L174.5,398.0L175.0,394.3L175.6,403.9L176.1,400.4L176.7,409.6L177.2,406.9L177.8,417.1L178.3,414.1L178.9,422.1L179.4,421.0L180.0,428.8L180.5,429.9L181.1,435.8L181.6,437.5L182.2,443.0L184.4,457.1L186.0,465.4L189.9,478.5L191.8,491.0L193.3,504.6L194.3,509.3L194.7,510.9L195.1,511.4L196.0,515.4L196.9,517.1L197.4,519.5L199.0,523.0L201.2,529.5L202.2,530.9L202.7,533.7L203.7,536.4L204.3,536.5L207.2,544.6L209.8,550.7L211.1,552.2L211.8,554.7L213.3,557.8L218.7,566.6L220.3,570.5L221.1,571.0L222.6,574.4L225.1,578.1L226.0,578.6L226.9,581.2L228.7,582.9L230.5,585.6L231.4,587.5L232.2,588.1L233.9,590.3L234.7,592.4L236.3,594.2L237.0,596.3L239.7,599.6L241.3,603.2L242.1,603.7L243.6,606.8L244.4,607.4L245.2,608.8L247.4,609.5L248.9,610.7L250.4,610.1L251.9,610.7L253.4,610.6L254.8,609.7L256.2,609.6L259.0,610.4L260.3,611.3L262.8,610.6L264.2,609.7L265.3,610.3L267.7,608.7L269.0,606.7L270.3,606.4L271.7,605.0L274.5,604.7L275.8,603.3L277.1,603.4L278.5,602.9L280.0,601.7L281.4,601.5L284.2,599.9L285.6,600.1L288.4,598.4L289.9,598.6L291.3,597.5L292.7,597.0L294.1,597.5L296.9,596.3L298.3,597.4L299.7,597.4L301.2,596.6L302.7,597.8L307.0,599.2L309.6,600.7L311.2,600.6L316.6,603.6L318.0,604.8L320.8,605.3L322.2,604.2L323.6,605.2L325.1,604.8L326.6,602.4L327.4,602.9L328.3,601.1L329.1,600.9L329.9,598.8L330.8,598.6L331.7,597.3L332.5,594.9L333.5,594.3L334.4,591.9L335.4,590.7L336.4,590.1L337.3,589.2L338.2,587.4L339.2,587.0L340.2,585.9L341.2,583.7L342.2,583.6L344.3,580.8L345.4,580.2L346.4,577.9L347.5,577.5L348.5,575.7L350.7,573.3L352.0,573.4L354.5,569.8L355.8,569.4L357.1,567.4L358.3,567.4L359.5,566.4L361.7,564.0L364.3,563.9L365.6,563.0L366.6,565.0L367.8,565.6L369.2,567.6L370.1,567.3L372.0,571.0L373.0,571.9L376.2,576.7L377.2,576.5L378.1,578.7L380.3,578.3L381.4,577.4L382.5,577.3L384.5,574.4L385.6,571.7L386.6,570.2L388.0,566.4L391.0,556.0L394.0,548.9L394.6,547.7L395.2,547.3L396.6,543.7L397.3,542.1L398.0,541.5L398.7,539.2L399.5,538.9L401.3,535.6L404.9,532.3L407.4,531.5L410.8,528.8L414.8,527.6L417.2,528.6L418.4,530.6L420.9,537.3L422.3,543.5L423.3,545.9L424.1,550.3L425.5,554.1L426.8,559.9L428.2,562.1L428.8,560.9L429.5,560.5L432.4,552.0L433.1,551.8L434.6,556.1L436.1,562.5L437.3,565.0L438.0,564.7L438.9,565.2L439.9,564.6L440.9,563.5L443.1,559.3L444.2,558.3L445.2,558.1L446.2,556.5L449.2,561.4L450.5,565.2L452.0,567.4L454.1,569.5L455.5,569.5L457.0,570.0L458.5,570.0L459.8,568.7L461.8,565.1L462.9,560.6L465.3,545.7L466.9,542.0L468.7,541.3L471.5,537.7L472.3,537.5L474.0,534.7L474.9,534.4L475.7,531.8L476.6,530.3L477.4,529.6L478.5,526.2L479.1,525.8L480.2,521.4L480.8,521.1L481.3,518.1L485.2,507.5L486.3,505.5L486.9,503.1L487.5,501.9L488.1,501.4L489.8,497.9L493.8,493.9L497.0,489.8L498.0,489.0L499.0,487.3L500.1,486.9L501.1,485.4L502.1,484.6L503.1,482.7L504.2,483.1L505.2,482.3L506.6,481.9L507.9,481.1L509.3,481.2L510.7,481.7L512.0,480.6L513.4,480.0L515.0,477.7L515.8,477.7L516.5,475.4L517.3,475.0L519.7,469.1L520.6,468.6L521.6,466.3L524.5,463.1L525.5,461.0L527.6,459.4L528.7,457.6L530.9,456.2L532.0,454.7L533.1,453.9L536.0,452.5L537.5,453.4L539.0,452.8L540.5,453.2L543.5,452.4L544.9,452.5L548.9,450.4L550.2,450.4L551.5,449.1L552.7,447.1L553.8,446.5L555.0,446.5L556.1,445.5L557.6,445.1L559.0,446.8L561.8,448.1L563.1,448.3L564.3,447.9L565.6,445.2L566.1,444.8L569.0,435.4L570.2,434.0L570.8,432.6L573.4,432.0L574.8,433.5L576.2,433.2L577.6,434.4L579.0,434.0L580.2,434.5L582.9,432.0L584.3,432.0L585.5,430.4L587.2,429.0" fill="none" stroke="#CC9600" stroke-width="5.1" stroke-linejoin="round"/>
<path d="M620.8,397.8L624.0,397.4L625.5,396.4L627.1,396.6L630.5,396.1L632.3,395.2L634.0,395.9L636.8,395.5L638.3,396.4L641.5,396.6L643.1,397.6L644.7,397.6L646.3,396.9L649.3,397.4L650.6,398.0L651.9,397.2L653.5,397.8L656.1,395.7L657.2,395.9L658.3,394.4L659.6,393.8L662.7,391.4L663.7,390.8L664.8,390.7L667.2,388.6L668.5,388.3L669.8,386.5L672.5,384.4L673.8,384.3L676.6,382.4L677.9,380.3L679.3,380.2L683.4,377.3L684.9,377.8L689.4,375.7L690.9,374.7L695.3,373.7L698.2,371.9L701.0,371.8L704.2,370.6L705.8,370.4L707.3,371.0L708.9,370.2L710.4,370.2L711.9,369.5L713.4,369.4L714.8,369.9L716.3,369.4L719.5,369.0L721.2,367.8L722.9,368.4L724.6,368.4L726.3,368.0L727.9,366.5L729.5,366.4L730.9,367.2L732.2,366.2L733.4,366.1L734.9,366.7L736.5,369.7L737.1,371.8L740.5,376.1L741.8,375.7L743.2,374.7L744.7,375.1L746.3,376.1L747.9,376.3L749.5,374.3L751.0,373.7L752.4,374.1L755.1,378.5L756.3,380.0L757.4,380.7L758.5,383.6L759.6,384.3L764.5,385.5L767.3,385.0L770.2,382.6L771.7,385.8L773.2,387.6L774.7,387.0L777.7,387.5L779.0,386.6L780.3,384.9L781.6,385.6L782.9,387.9L784.2,388.8L785.6,388.9L786.9,388.4L788.2,388.4L789.5,389.2L790.8,390.6L792.1,390.8L793.4,391.8L794.7,393.6L796.0,393.7L797.3,395.3L798.7,395.2L800.0,397.6L803.9,402.9L806.5,404.4L809.2,402.6L814.7,405.0L816.0,404.8L817.3,405.1L818.5,406.6L820.8,408.1L823.4,413.1L825.6,414.4L826.7,415.4L830.0,415.6L831.0,415.3L833.1,419.7L834.2,421.2L835.3,421.3L838.5,425.2L841.6,431.6L843.4,432.7L844.3,434.3L846.0,435.7L847.8,438.0L849.6,441.1L850.5,441.6L851.4,442.8L853.7,448.3L855.3,450.9L856.0,453.5L858.3,457.4L859.1,459.7L862.2,461.6L864.1,464.9L866.0,469.9L867.2,472.1L869.1,478.7L869.8,479.9L870.4,483.2L871.0,483.3L871.6,483.8L872.3,483.6L872.9,484.6L873.9,484.4L875.9,488.0L878.0,490.7L879.0,490.0L880.0,490.5L881.9,492.5L883.6,496.6L885.5,503.3L889.6,525.4L893.5,537.7L894.1,538.5L894.7,541.2L896.0,543.2L896.6,545.8L897.7,547.7L899.1,553.8L900.4,562.6L901.9,578.8L903.8,589.1L906.4,596.5L907.5,597.7L909.3,601.6L910.3,602.3L912.4,605.8L913.5,606.6L914.6,608.3L915.7,607.7L916.8,609.2L917.9,609.4L921.4,607.1L922.5,607.0L923.7,604.7L925.1,604.0L926.5,603.9L927.8,603.2L929.2,603.1L930.7,601.5L932.2,601.7L936.8,600.4L938.1,601.1L939.3,600.7L941.9,601.3L942.8,603.7L945.8,605.2L947.1,605.5L948.5,606.4L951.4,606.0L954.3,603.8L956.6,600.9L957.4,598.4L958.1,598.0L958.9,595.4L959.7,595.2L960.5,592.2L961.3,591.4L962.1,589.2L963.7,587.6L964.6,585.5L966.4,582.7L967.3,581.9L968.2,580.2L970.0,577.9L970.9,577.5L971.7,575.5L972.5,576.1L974.8,576.2L975.8,577.2L976.9,577.2L977.9,578.7L979.0,581.3L980.8,582.6L982.9,586.6L983.7,589.1L986.8,594.4L988.6,597.3L989.6,597.6L991.9,601.2L993.1,602.1L995.5,602.8L996.8,604.9L998.0,605.4L1000.4,607.0L1001.5,606.6L1003.1,607.0L1004.7,608.1L1006.2,607.3L1009.2,607.8L1010.7,606.2L1012.2,605.3L1013.0,605.3L1013.8,603.9L1014.6,603.3L1016.1,599.7L1016.9,598.9L1019.3,593.6L1020.1,593.4L1021.9,589.4L1022.9,587.9L1023.8,587.6L1024.8,586.6L1025.8,584.6L1026.9,584.5L1029.0,581.3L1030.1,581.0L1031.2,579.4L1033.5,577.8L1034.6,575.8L1036.8,573.8L1037.9,574.0L1039.3,572.1L1040.7,572.2L1042.0,569.9L1043.4,569.2L1044.8,569.2L1047.6,567.6L1049.0,567.5L1050.3,566.6L1051.6,566.2L1052.9,564.5L1054.4,563.9L1055.8,563.8L1057.2,564.6L1058.5,563.0L1061.3,563.6L1062.7,562.9L1064.2,562.7L1065.8,563.4L1067.2,562.6L1068.8,562.2L1072.1,562.2L1073.8,560.9L1075.5,560.8L1077.1,560.0L1078.7,561.1L1080.3,560.0L1081.6,560.9L1082.9,560.8L1084.4,562.1L1085.6,562.0L1087.7,565.0L1088.6,565.4L1089.5,567.4L1090.5,567.9L1095.8,574.2L1096.9,574.6L1100.1,578.3L1101.3,578.2L1102.5,578.7L1103.7,580.3L1106.1,581.6L1108.7,581.8L1109.9,582.4L1111.2,583.4L1112.6,583.3L1113.9,584.8L1115.3,585.6L1116.7,585.1L1121.0,586.9L1125.8,587.1L1127.4,585.7L1128.8,587.1L1130.1,586.6L1131.6,586.7L1132.9,587.6L1134.0,589.7L1135.1,589.3L1136.5,590.3L1137.5,589.1L1140.7,586.4L1141.8,584.2L1142.9,583.7L1144.0,582.3L1145.1,582.3L1148.0,581.5L1149.5,582.6L1151.0,582.0L1152.4,582.9L1154.6,585.8L1155.5,585.9L1157.0,589.6L1157.8,590.6L1158.6,592.8L1160.1,595.4L1160.9,595.9L1161.6,597.4L1163.2,601.9L1163.9,602.1L1165.6,605.1L1166.5,604.7L1167.3,605.2L1168.0,603.8L1168.9,603.4L1169.7,602.0L1170.5,601.4L1171.4,598.7L1172.3,597.8L1173.2,595.5L1174.1,594.1L1175.1,593.5L1175.8,591.4L1176.4,590.6L1177.1,588.7L1177.8,587.9L1178.5,585.3L1180.7,581.9L1182.9,576.0L1183.6,574.8L1184.4,574.2L1185.1,571.9L1186.9,570.5L1190.3,565.6L1192.6,564.5L1193.7,562.7L1194.7,562.1L1195.7,562.4L1196.6,561.3L1197.9,561.7L1200.9,563.3L1204.5,570.3L1206.1,574.9L1207.7,581.3L1208.3,582.0L1209.4,586.4L1213.0,593.2L1214.4,593.8L1215.8,595.2L1218.6,595.1L1220.1,595.6L1221.4,595.2L1222.9,595.3L1224.3,594.9L1225.7,593.5L1227.2,593.2L1230.0,591.5L1231.2,591.2L1232.3,589.7L1234.6,588.1L1235.7,586.5L1236.8,585.8L1237.9,584.5L1239.7,580.9L1241.2,579.7L1242.6,575.7L1245.6,570.1L1246.4,569.5L1248.0,566.4L1248.9,566.2L1249.8,563.8L1252.8,559.6L1253.8,558.6L1255.8,555.6L1256.7,555.8L1257.7,554.4L1258.5,554.3L1259.3,552.7L1260.7,552.6L1261.9,554.5L1266.0,559.4L1267.4,562.1L1268.0,564.9L1268.7,565.4L1269.4,568.2L1270.8,570.8L1271.4,571.3L1272.8,573.9L1273.9,574.2L1275.0,572.6L1276.0,572.2L1277.1,569.6L1279.5,567.1L1283.3,561.6L1285.4,560.1L1287.5,557.8L1288.5,557.1L1291.4,555.7L1295.9,556.4L1298.8,556.2L1303.3,555.6L1304.8,554.4L1307.6,554.8L1308.8,553.9L1309.9,555.6L1310.8,556.5L1311.7,556.4L1312.5,559.1L1314.0,561.1L1315.5,565.0L1316.1,565.7L1317.2,569.6L1318.3,571.9L1318.8,574.2L1321.2,578.0L1322.0,577.1L1323.7,576.3L1324.6,575.3L1326.4,571.2L1329.0,567.4L1331.6,561.8L1332.5,560.7L1333.3,560.3L1334.1,558.6L1335.8,557.4L1336.5,557.4L1337.3,559.1L1338.0,559.0L1340.9,566.0L1341.7,566.6L1342.5,569.7L1344.0,572.3L1345.7,577.4L1347.4,581.2L1348.6,585.3L1350.4,589.5L1351.5,591.7L1352.3,592.7L1354.0,597.3L1355.6,599.4L1356.4,601.9L1357.2,602.1L1358.9,605.5L1359.7,605.1L1361.8,606.1L1364.4,605.0L1368.3,601.2L1370.7,600.2L1373.0,596.8L1375.2,594.7L1376.3,594.1L1377.4,594.0L1379.6,594.3L1380.7,596.0L1381.8,596.5L1383.0,598.2L1384.1,598.7L1385.3,601.2L1386.3,601.5L1387.3,603.3L1389.3,605.4L1390.4,607.0L1391.5,607.9L1392.8,608.3L1394.3,610.2L1396.9,608.6L1399.8,608.3L1404.6,605.8L1406.1,605.8L1407.5,604.9L1410.1,603.8L1413.6,602.9L1415.0,604.3L1416.4,603.6L1419.1,605.1L1423.9,609.6L1425.2,609.1L1426.6,610.5L1428.1,610.6L1430.5,609.6L1434.6,608.7L1436.0,606.8L1437.4,606.2L1438.8,604.9L1440.2,604.5L1443.0,603.2L1444.4,601.9L1445.8,601.8L1447.2,600.9L1450.0,600.4L1452.7,599.1L1453.9,598.1L1455.1,598.5L1456.6,597.9L1459.3,599.1L1460.5,600.5L1464.1,603.1L1465.4,603.6L1466.7,603.5L1469.2,605.2L1471.8,605.6L1473.1,606.2L1474.4,606.0L1477.0,604.4L1480.8,602.7L1482.1,601.3L1484.7,601.0L1486.0,599.6L1488.5,599.0L1491.1,595.6L1491.8,595.1L1493.9,591.1L1495.3,589.5L1498.3,582.7L1499.2,582.5L1504.4,573.3L1508.3,568.5L1509.3,566.2L1510.2,565.5L1511.1,564.3L1512.8,563.5L1513.6,562.4L1516.4,562.4L1517.7,562.9L1520.0,566.5L1522.6,567.1L1523.5,566.8L1524.5,564.7L1525.6,564.2L1526.6,561.3L1528.7,559.0L1530.8,555.1L1532.9,554.8L1533.8,554.1L1535.1,555.5L1536.9,559.9L1538.1,565.2L1538.6,566.0L1539.2,569.4L1540.8,575.0L1542.4,578.2L1542.9,578.4L1543.5,577.5L1544.0,577.7L1544.5,577.2L1545.0,574.9L1545.5,574.4L1546.4,571.4L1550.8,553.0L1551.9,549.7L1552.3,546.7L1553.0,545.0L1553.8,541.0L1556.4,532.3L1557.1,531.7L1557.8,529.4L1560.8,522.3L1562.4,520.4L1563.9,517.7L1564.7,517.2L1565.4,517.6L1566.2,517.0L1567.0,518.8L1567.8,519.5L1570.9,526.8L1571.7,529.6L1572.4,529.8L1573.2,531.2L1574.3,531.3L1575.5,529.0L1576.6,528.3L1577.8,525.7L1578.9,525.5L1580.0,524.2L1581.1,523.7L1582.4,526.3L1583.0,526.5L1584.3,529.5L1586.7,537.3L1589.4,542.4L1590.9,547.1L1593.1,549.7L1593.9,551.2L1595.3,550.6L1596.0,549.5L1596.6,550.0L1598.0,546.2L1598.7,545.4L1600.0,542.1L1601.8,536.4L1606.5,513.3L1608.8,506.2L1611.5,499.5L1613.1,497.8L1613.9,497.5L1614.9,496.4L1615.9,496.0L1617.1,494.2L1618.3,495.1L1619.6,494.2L1620.9,494.0L1622.4,494.9L1623.9,494.4L1625.4,496.0L1627.0,495.6L1628.6,497.0L1630.2,497.1L1635.1,499.4L1636.4,499.4L1639.0,500.4L1641.8,502.6L1643.2,503.3L1644.6,503.3L1646.0,505.1L1651.4,507.2L1652.7,508.4L1655.1,509.8L1656.4,511.8L1657.7,511.5L1659.0,512.9L1660.2,513.6L1661.4,515.5L1662.5,516.1L1663.7,517.8L1664.8,517.8L1665.9,518.9L1670.3,524.2L1671.5,524.6L1672.7,526.1L1673.9,526.3L1675.1,528.5L1676.2,529.5L1679.6,531.4L1681.8,534.4L1684.9,536.4L1687.7,541.3L1689.5,543.5L1690.3,543.9L1696.9,555.5L1697.6,556.0L1698.4,558.0L1700.6,561.9L1702.1,565.8L1702.8,566.2L1703.6,567.2L1704.6,569.4L1706.5,571.5L1707.4,573.7L1708.4,575.0L1709.4,576.2L1710.4,576.0L1711.5,577.9L1712.6,577.5L1713.9,578.9L1715.2,579.2L1716.5,578.8L1717.9,579.4L1719.4,579.3L1721.0,580.6L1724.7,580.0L1728.7,580.1L1731.8,579.8L1733.5,578.6L1735.1,579.4L1736.8,578.7L1738.4,578.7L1740.0,578.4L1743.1,578.7L1744.5,578.0L1745.9,578.9L1747.5,577.8L1749.0,578.9L1750.5,579.1L1751.9,580.8L1753.2,580.6L1754.5,581.2L1757.1,582.9L1758.4,584.1L1759.7,584.6L1761.1,584.0L1762.6,584.2L1764.1,584.8L1765.6,584.9L1767.1,583.5L1768.7,584.2L1770.2,583.8L1771.7,582.2L1773.2,582.7L1776.2,580.6L1777.6,581.0L1784.6,577.0L1786.0,576.7L1787.4,575.3L1788.7,575.7L1791.3,574.6L1795.2,576.7L1796.5,578.6L1797.7,579.5L1798.9,579.7L1801.2,583.1L1803.4,585.0L1805.1,584.7L1806.7,584.8L1808.1,585.3L1811.0,587.2L1812.5,587.1L1813.5,587.7L1814.5,589.7L1815.4,590.3L1817.3,593.2L1818.3,593.3L1820.5,595.2L1824.4,597.0L1826.0,596.6L1827.6,597.3L1832.2,596.0L1833.7,596.8L1835.1,596.2L1837.9,598.7L1840.5,599.4L1841.8,600.8L1843.1,601.1L1844.3,600.6L1846.0,601.2L1851.1,598.4L1852.4,599.0L1853.4,598.3" fill="none" stroke="#CC9600" stroke-width="5.1" stroke-linejoin="round"/>
<path d="M70.5,233.3L71.6,232.6L72.2,234.7L72.7,230.0L73.3,233.4L73.8,230.0L74.4,232.4L74.9,228.4L75.5,232.6L76.0,226.9L76.6,231.4L77.1,227.7L77.7,230.6L78.2,224.9L78.8,229.9L79.3,225.2L79.9,231.2L80.4,225.6L81.0,229.8L81.5,222.4L82.1,228.3L82.6,222.9L83.2,229.8L83.7,223.5L84.3,228.3L84.8,221.2L85.4,228.2L85.9,221.4L86.5,226.4L87.0,220.6L87.6,226.3L88.1,219.9L88.7,225.5L89.2,217.8L89.8,225.9L90.3,218.2L90.9,224.5L91.4,216.6L92.0,223.1L92.5,214.4L93.1,223.0L93.6,212.2L94.2,220.8L94.7,208.2L95.3,219.3L95.8,204.8L96.4,216.7L96.9,203.5L97.5,217.0L98.0,203.5L98.6,217.5L99.1,201.0L99.7,214.7L100.2,203.5L100.8,211.1L101.3,197.5L101.9,212.8L102.4,196.6L103.0,214.4L103.5,195.6L104.1,207.1L104.6,197.1L105.2,209.4L105.7,196.5L106.3,210.7L106.8,190.8L107.4,208.9L107.9,192.8L108.5,207.8L109.0,193.9L109.6,203.3L110.1,190.7L110.7,205.0L111.2,189.5L111.8,200.1L112.3,189.4L112.9,200.2L113.4,188.6L114.0,198.1L114.5,186.8L115.1,199.3L115.6,183.1L116.2,201.1L116.7,183.9L117.0,191.3L117.8,157.0L118.7,194.3L120.4,192.3L121.0,218.0L122.2,185.1L122.8,204.3L123.3,181.1L123.9,197.2L124.4,179.5L125.0,194.9L125.5,180.3L126.1,200.3L126.6,178.0L127.2,197.2L127.7,173.8L128.3,198.6L128.8,172.6L129.4,190.2L129.9,176.1L130.5,193.8L131.0,179.8L131.6,194.1L132.1,176.0L132.7,196.0L133.2,174.6L133.8,190.7L134.3,180.9L134.9,194.3L135.4,182.4L136.0,191.8L136.5,180.5L137.1,191.8L137.6,180.2L138.2,196.0L138.7,185.2L139.3,194.3L139.8,181.7L140.4,196.6L140.9,184.6L141.5,192.3L142.0,181.4L142.6,195.8L143.1,184.5L143.7,192.9L144.2,181.3L144.8,194.3L145.3,183.5L145.9,192.8L146.4,179.9L147.0,191.8L147.5,183.1L148.1,189.3L148.6,182.3L149.2,194.9L149.7,183.6L150.3,191.4L150.8,181.6L151.4,193.3L151.9,183.5L152.5,194.6L153.0,180.6L153.6,202.7L154.1,181.7L154.7,199.2L155.2,183.0L155.8,206.2L156.3,176.6L156.9,211.8L157.4,186.1L158.0,201.5L158.5,181.1L159.1,212.3L159.6,186.7L160.2,211.4L160.7,184.1L161.3,210.8L161.8,185.9L162.4,206.3L162.9,193.7L163.5,210.4L164.0,197.1L164.6,218.1L165.1,200.0L165.7,217.6L166.2,201.7L166.8,216.6L167.3,200.9L167.9,217.0L168.4,202.8L169.0,222.3L169.5,207.4L170.1,226.2L170.6,211.9L171.2,224.5L171.7,214.0L172.3,228.6L172.8,219.1L173.4,234.9L173.9,219.6L174.5,233.1L175.0,226.8L175.6,237.2L176.1,231.1L176.7,240.9L177.2,235.8L177.8,246.9L178.3,241.4L178.9,249.8L179.4,246.5L180.0,254.3L180.5,253.7L181.1,259.4L181.6,259.9L184.4,284.7L186.7,319.5L187.8,330.2L192.3,362.9L196.7,398.6L199.9,417.7L203.5,431.2L203.9,431.7L204.3,434.1L204.8,434.4L206.6,442.9L207.0,443.2L208.6,450.2L211.5,460.1L211.9,462.7L214.3,471.3L214.8,472.1L215.3,474.7L215.8,475.1L216.8,479.3L221.4,492.8L221.9,493.3L224.0,500.1L224.5,501.5L225.1,501.9L225.7,504.4L226.2,504.8L226.8,507.2L228.5,510.2L229.1,512.5L230.2,514.2L233.0,522.7L235.1,527.9L237.8,536.7L238.3,537.3L238.8,538.8L240.3,544.3L241.1,546.1L241.5,548.6L245.1,562.1L245.5,562.9L248.8,565.7L250.3,564.9L253.5,564.9L255.1,564.2L258.1,565.7L259.6,564.7L262.7,564.4L264.2,563.2L266.0,562.6L267.7,560.0L268.6,557.9L269.5,557.4L272.3,553.3L273.3,552.3L274.4,552.2L275.6,551.2L278.0,548.4L279.3,548.4L281.9,547.2L283.2,546.5L284.6,545.1L287.5,544.7L289.1,543.7L290.7,543.7L292.2,543.0L296.9,542.2L298.3,541.2L299.8,541.3L304.3,544.0L305.7,544.3L308.3,546.5L309.6,546.4L311.0,548.3L312.2,548.7L313.4,550.0L314.5,550.6L316.8,552.9L319.4,553.7L320.9,553.6L322.3,554.3L323.8,553.6L325.2,553.6L327.8,550.2L328.4,549.3L329.0,547.1L329.6,546.7L330.2,544.1L331.4,541.8L332.0,538.9L334.8,532.7L337.0,529.4L338.1,529.8L340.1,528.1L341.9,525.3L342.5,523.5L343.1,523.5L343.7,520.9L345.0,519.5L347.8,512.6L349.5,510.3L350.9,506.5L352.6,504.3L353.5,502.0L354.3,501.1L355.2,498.8L357.9,495.1L358.8,493.1L359.7,492.4L361.2,489.2L362.6,488.0L365.1,487.9L367.0,489.8L368.0,492.1L369.2,492.7L369.9,493.6L371.4,497.5L372.2,498.1L373.9,502.2L374.8,503.1L378.1,509.3L380.6,511.4L381.5,510.8L383.1,508.6L383.9,505.7L386.2,499.5L389.3,485.9L390.7,481.1L393.7,466.3L394.4,464.8L394.8,461.9L398.3,450.6L398.8,450.2L399.5,447.8L400.2,447.4L401.7,444.1L402.5,443.3L404.1,439.9L405.0,439.9L406.3,438.0L407.6,437.4L409.0,435.4L410.4,435.0L411.8,434.9L413.0,433.5L415.7,434.8L416.9,434.2L418.0,436.1L419.1,436.3L419.7,438.3L420.2,438.7L420.8,439.9L422.7,445.5L424.7,452.8L427.4,467.7L428.8,478.2L429.7,480.3L430.0,480.1L431.7,470.1L432.9,466.0L433.3,465.7L435.2,471.8L437.3,482.5L438.6,485.4L439.2,485.1L440.6,483.1L443.4,474.6L444.7,473.0L446.3,473.6L447.1,474.6L447.8,477.0L450.6,482.7L452.7,490.3L453.2,491.7L453.8,492.0L454.4,493.9L455.6,493.5L456.8,494.6L458.2,493.5L459.4,493.3L460.6,491.2L460.9,489.2L461.2,489.1L462.6,481.4L465.8,457.8L467.3,449.9L469.4,446.6L471.6,445.5L472.7,445.5L475.1,440.6L475.5,439.2L475.9,439.1L480.0,420.4L481.7,417.0L485.6,406.5L489.3,386.9L493.1,375.5L493.8,374.8L497.0,368.5L497.8,367.4L499.5,366.2L500.3,364.0L501.7,363.6L504.6,361.9L507.7,362.3L509.1,360.8L510.5,360.2L511.8,359.1L512.7,359.0L513.4,357.1L514.9,355.2L516.2,352.6L516.9,350.2L517.6,349.7L520.0,344.5L520.8,344.0L523.4,338.9L525.2,337.2L527.1,333.6L528.9,331.8L531.5,328.0L533.0,326.8L534.3,327.1L535.6,326.1L537.0,326.9L539.7,326.2L541.3,325.1L542.4,323.8L543.5,323.8L544.7,322.2L547.2,320.3L548.5,318.1L549.7,317.9L553.3,313.8L554.4,313.2L556.0,313.7L564.3,314.0L565.6,311.8L566.2,310.0L566.7,309.6L567.8,305.0L569.8,299.0L572.1,296.5L573.5,296.3L574.9,297.1L577.4,297.2L578.7,298.5L580.0,298.2L582.3,299.2L585.9,293.7L587.2,290.9" fill="none" stroke="#0CC8CC" stroke-width="5.1" stroke-linejoin="round"/>
<path d="M620.8,238.2L624.5,236.0L631.4,234.9L634.5,233.5L636.1,233.2L637.7,233.9L639.3,233.4L640.9,233.5L642.4,234.5L643.7,233.5L645.0,234.1L646.6,234.2L647.9,234.9L649.1,234.8L650.4,235.7L651.9,235.4L652.9,233.9L654.9,233.8L656.0,233.2L657.1,231.4L659.7,230.3L661.1,228.6L663.7,227.2L664.8,225.9L666.0,225.8L667.2,223.6L668.5,223.2L669.8,221.7L672.5,219.7L673.8,219.3L675.2,217.5L676.6,217.6L677.9,215.7L679.3,214.7L681.9,213.9L683.3,212.2L686.0,210.9L687.4,209.8L688.8,209.9L691.6,207.4L693.0,207.4L694.4,207.0L695.7,205.5L697.1,205.5L699.7,203.5L702.6,202.8L705.8,203.0L707.3,201.9L708.9,202.4L710.4,201.5L711.9,202.0L714.8,201.1L716.3,201.0L720.8,198.6L722.4,198.1L724.0,198.7L725.5,196.8L727.0,196.1L732.3,195.6L733.4,194.8L734.7,194.9L736.8,198.9L737.4,201.3L740.5,206.1L741.8,205.4L743.2,205.4L744.7,203.9L746.3,204.1L747.9,205.3L749.5,204.5L751.0,202.9L753.7,204.4L755.1,206.2L759.6,213.7L760.7,214.3L763.3,214.9L764.5,216.1L765.9,215.2L768.7,212.4L770.2,212.3L771.7,214.6L773.2,217.8L774.7,216.9L776.2,218.0L777.7,216.5L780.3,215.0L781.6,215.8L782.9,217.8L784.2,219.1L785.6,218.4L786.9,217.0L788.2,218.0L789.5,218.2L790.8,219.6L792.1,220.1L793.4,222.7L796.0,223.7L797.3,225.1L798.7,225.4L800.0,227.0L802.6,232.1L806.5,234.1L809.1,232.9L810.4,233.9L811.7,233.2L814.3,234.8L815.6,234.0L816.9,234.2L819.5,236.5L821.9,239.8L824.2,244.3L828.9,246.9L830.0,245.6L831.1,246.9L832.2,249.5L835.2,254.1L838.4,257.3L841.2,263.5L842.1,264.3L843.9,266.8L844.8,267.1L845.5,268.6L847.0,269.9L848.5,273.1L850.0,274.8L850.7,276.7L852.9,280.2L856.4,289.8L857.7,292.3L858.4,294.9L859.0,295.4L864.6,304.0L865.2,306.6L866.4,308.2L867.4,311.8L870.6,323.8L873.3,328.6L873.8,330.3L874.2,330.7L877.4,343.9L879.2,349.2L879.6,349.4L881.5,355.5L881.9,356.0L884.6,367.2L885.0,367.8L885.8,371.8L887.5,377.0L889.1,384.8L898.5,436.0L899.9,450.3L900.9,478.2L901.9,490.8L903.8,505.8L905.4,515.6L908.4,530.8L910.3,537.6L910.7,540.0L911.1,540.2L913.0,547.1L916.0,552.0L917.7,553.7L919.6,554.1L920.5,553.4L921.6,551.7L922.6,550.8L924.9,548.0L926.0,547.7L928.5,545.1L929.8,544.1L934.1,542.6L936.8,540.5L937.9,540.8L939.2,542.2L940.3,542.0L942.2,545.6L943.2,545.9L944.3,547.9L948.5,549.4L950.0,550.8L951.4,550.4L952.9,548.7L955.4,543.4L957.3,536.2L957.8,535.5L958.8,531.4L959.3,530.3L959.9,527.4L960.9,525.2L962.0,521.0L963.6,517.4L965.3,511.2L969.2,499.9L970.3,498.1L970.8,496.1L973.3,493.4L974.3,492.8L975.9,495.2L976.7,497.5L979.5,503.2L982.0,510.6L984.1,518.4L984.6,519.0L985.1,521.8L986.2,523.7L987.2,527.8L988.4,530.3L990.9,537.0L993.4,542.6L995.2,545.0L997.0,548.6L998.2,549.9L1000.7,550.9L1001.9,551.7L1003.1,553.1L1004.3,553.5L1005.7,553.6L1008.6,553.0L1011.5,551.6L1012.9,549.4L1013.5,549.2L1014.1,548.3L1016.4,541.9L1017.5,539.7L1020.8,530.4L1021.5,528.8L1022.0,528.4L1022.6,526.4L1023.8,524.4L1024.4,522.1L1025.7,519.9L1027.0,516.2L1029.0,512.5L1031.7,505.9L1032.3,505.4L1033.7,502.1L1034.3,501.9L1035.4,499.4L1036.5,498.7L1038.7,495.6L1039.8,495.6L1040.9,493.4L1042.0,493.6L1044.1,490.7L1046.2,490.0L1048.3,486.9L1049.4,486.6L1050.5,485.7L1052.5,483.2L1053.6,481.3L1054.6,480.7L1055.7,479.1L1056.8,478.2L1057.9,478.0L1061.7,476.1L1063.0,474.2L1064.3,474.4L1065.7,474.1L1067.0,473.4L1068.3,472.0L1069.6,471.7L1070.8,472.1L1072.5,471.4L1074.1,470.0L1077.2,469.6L1078.7,468.8L1080.1,469.6L1081.5,468.9L1083.8,470.5L1084.9,471.8L1085.9,472.2L1087.0,474.0L1088.0,475.1L1089.0,477.3L1090.1,477.9L1095.8,482.9L1096.9,483.6L1100.2,490.1L1102.0,496.5L1103.8,498.4L1104.8,499.1L1107.2,502.0L1109.9,503.1L1112.5,504.7L1113.7,506.7L1114.8,507.6L1115.8,507.8L1118.3,510.1L1120.1,513.4L1121.1,513.2L1123.5,514.9L1125.0,515.2L1126.6,515.0L1128.1,513.8L1129.5,514.7L1130.8,514.0L1132.0,516.0L1133.0,516.8L1133.9,518.5L1136.2,520.0L1136.9,519.8L1137.6,517.6L1138.3,517.4L1139.1,515.3L1140.8,512.6L1141.7,509.7L1145.8,504.8L1146.9,505.1L1149.2,504.8L1151.4,507.9L1152.4,508.6L1154.4,511.5L1156.7,516.6L1158.2,521.0L1160.3,528.4L1161.3,531.4L1161.7,531.8L1164.8,546.1L1165.2,546.7L1165.7,548.6L1166.7,550.1L1167.7,549.3L1169.2,547.2L1173.0,536.6L1177.3,522.2L1182.0,500.7L1185.0,490.6L1185.7,489.9L1187.0,485.9L1191.3,476.4L1192.7,474.7L1193.3,473.1L1194.0,472.2L1194.5,472.2L1195.1,471.2L1198.6,471.2L1202.6,480.8L1202.9,483.4L1204.4,488.7L1206.9,500.5L1207.6,504.9L1208.0,505.1L1209.3,510.1L1211.3,519.2L1213.4,525.7L1214.4,527.5L1215.5,528.6L1216.7,530.6L1219.2,532.5L1220.5,531.9L1224.2,532.5L1225.4,531.9L1226.6,531.8L1227.8,530.5L1229.0,530.5L1230.3,528.4L1231.6,526.8L1232.2,526.5L1233.5,523.7L1234.2,523.6L1238.3,514.5L1239.0,514.2L1239.7,512.7L1242.8,503.7L1243.2,503.4L1243.7,502.2L1244.6,498.1L1245.9,494.5L1246.7,490.3L1250.1,479.1L1250.5,476.8L1251.4,474.6L1252.0,471.9L1252.5,470.8L1254.2,464.8L1254.7,464.0L1257.4,455.7L1257.9,455.4L1258.9,453.7L1259.4,453.7L1260.3,452.2L1261.9,453.2L1262.7,454.5L1265.0,461.1L1265.8,462.3L1266.2,464.6L1267.0,466.4L1268.3,472.9L1270.8,482.9L1272.0,486.7L1273.4,488.7L1274.4,488.0L1275.3,484.8L1279.2,476.8L1283.7,465.9L1284.5,465.5L1285.3,463.4L1286.1,462.6L1286.9,460.3L1287.7,460.0L1289.3,457.6L1290.5,457.6L1291.5,458.6L1292.7,459.1L1294.0,460.4L1295.7,460.7L1298.0,458.4L1300.7,457.2L1306.3,452.6L1307.5,453.3L1308.6,452.2L1311.2,456.4L1312.7,460.4L1313.6,464.9L1316.1,474.0L1318.9,490.5L1320.3,496.0L1321.4,498.5L1321.9,498.6L1323.6,496.2L1326.3,485.7L1328.4,479.8L1328.9,477.4L1330.4,473.0L1330.9,470.2L1331.4,469.4L1332.3,465.3L1332.8,464.9L1333.3,463.3L1333.8,462.8L1334.3,463.2L1335.0,461.9L1336.4,463.5L1337.8,466.7L1338.6,467.5L1339.3,470.0L1340.0,471.4L1342.3,480.1L1354.1,539.1L1358.5,553.0L1359.5,554.2L1360.0,554.2L1362.0,555.4L1363.0,554.5L1364.0,552.6L1367.1,548.7L1370.1,542.4L1371.7,538.0L1372.5,536.9L1373.4,534.9L1374.2,534.2L1375.7,530.7L1376.5,531.0L1377.2,530.7L1378.1,529.5L1379.1,530.1L1380.8,532.7L1381.6,534.8L1382.5,535.6L1384.1,540.2L1385.8,542.4L1387.4,546.4L1388.1,546.7L1388.9,548.9L1392.7,556.5L1395.5,558.8L1398.0,557.6L1399.2,556.6L1400.4,555.1L1402.9,553.3L1404.1,553.1L1405.4,552.1L1406.6,550.3L1409.0,547.8L1410.3,547.3L1411.5,547.6L1412.7,547.3L1413.9,548.3L1415.1,548.6L1417.5,551.4L1418.8,552.0L1420.1,554.2L1421.2,555.0L1422.3,555.0L1423.5,556.8L1424.7,557.0L1425.9,558.7L1428.4,560.8L1429.6,561.5L1430.8,561.4L1432.0,560.3L1433.1,560.5L1438.8,556.6L1440.1,554.5L1441.5,553.3L1443.6,552.1L1444.8,550.1L1446.0,549.9L1447.2,548.5L1448.5,546.4L1451.0,545.1L1452.2,543.0L1453.4,543.0L1454.5,541.7L1455.5,541.0L1458.1,541.2L1459.4,541.8L1460.6,541.9L1461.8,542.7L1463.9,546.2L1465.1,546.5L1466.2,547.6L1467.2,549.9L1470.2,553.1L1471.3,555.1L1472.4,556.2L1474.7,555.0L1475.9,555.6L1477.1,554.1L1479.6,552.6L1480.9,550.5L1482.1,549.1L1484.4,547.9L1485.4,545.7L1487.4,544.5L1488.3,543.1L1489.2,542.6L1491.0,540.4L1495.2,530.5L1498.3,520.0L1500.1,512.5L1502.0,506.7L1502.6,505.9L1503.1,503.4L1503.7,502.6L1504.3,500.1L1504.8,499.4L1505.9,495.1L1506.5,494.3L1508.1,489.1L1511.8,480.6L1512.6,479.9L1513.3,478.2L1514.0,477.7L1514.8,475.8L1517.5,475.1L1518.5,477.2L1519.6,478.0L1521.8,481.2L1522.9,482.0L1524.0,483.6L1525.1,482.6L1525.7,482.8L1527.5,477.6L1528.0,476.6L1528.6,473.4L1530.4,467.3L1532.7,461.5L1533.2,461.2L1534.1,461.4L1536.1,467.8L1538.3,478.8L1538.9,483.8L1541.0,493.3L1541.9,500.4L1542.5,502.4L1543.5,502.2L1545.2,495.3L1548.0,478.9L1552.6,446.1L1556.1,426.0L1559.2,411.3L1559.6,410.7L1561.9,401.1L1562.3,400.9L1562.7,399.2L1563.0,399.3L1563.7,396.6L1564.7,395.5L1565.8,396.1L1566.7,398.2L1567.6,399.0L1568.5,402.3L1569.3,403.5L1570.1,405.5L1573.1,417.3L1574.4,419.4L1575.7,418.6L1578.4,410.5L1579.8,408.9L1580.6,408.5L1582.0,410.2L1582.8,412.5L1583.5,413.3L1585.1,418.1L1590.6,445.8L1590.9,446.1L1591.2,447.8L1593.0,451.7L1594.3,453.2L1597.2,447.7L1597.6,447.8L1598.1,445.5L1599.2,443.8L1601.8,434.1L1603.7,422.7L1607.2,391.6L1609.3,379.2L1609.8,378.1L1612.0,369.6L1612.6,369.4L1613.3,367.6L1614.0,366.5L1614.7,365.9L1615.5,364.4L1616.4,364.6L1618.4,363.0L1619.7,363.8L1621.1,363.5L1622.6,364.6L1624.2,364.1L1625.8,364.7L1627.3,366.9L1628.9,367.7L1630.4,367.9L1631.9,369.4L1634.4,370.0L1635.8,371.6L1637.1,371.7L1639.3,374.1L1640.4,376.3L1641.4,376.7L1643.4,379.2L1644.5,379.6L1645.6,381.3L1647.8,383.2L1651.2,384.6L1653.7,388.1L1655.1,389.4L1655.9,389.5L1656.7,391.2L1657.5,391.4L1661.0,396.2L1662.0,398.2L1662.9,398.7L1663.8,401.1L1664.8,401.3L1665.7,403.3L1667.6,405.7L1669.4,409.0L1671.1,411.1L1673.5,415.7L1674.4,416.7L1675.2,418.7L1676.8,421.2L1677.6,421.5L1679.3,424.9L1680.9,427.3L1682.4,431.0L1685.4,435.4L1686.1,437.9L1686.8,438.3L1688.2,442.4L1688.9,443.3L1690.3,446.6L1690.9,447.4L1692.9,452.4L1693.5,453.1L1695.9,459.9L1699.4,467.6L1700.0,470.0L1700.6,470.8L1701.6,474.2L1702.1,474.8L1703.1,478.2L1703.6,479.4L1704.1,479.7L1704.6,482.0L1706.9,487.0L1707.5,489.7L1708.2,490.3L1710.6,496.7L1712.6,500.1L1715.0,502.0L1716.2,504.0L1717.5,504.2L1718.8,505.0L1721.7,505.4L1724.2,504.5L1725.5,505.2L1728.3,503.4L1731.1,502.5L1732.4,500.7L1733.8,500.8L1735.3,501.5L1736.8,501.4L1738.2,501.0L1739.7,501.4L1741.1,501.9L1742.7,503.0L1744.2,503.2L1745.9,504.5L1747.0,504.2L1748.1,506.3L1749.2,506.3L1751.5,508.4L1752.7,510.4L1757.5,513.9L1759.9,516.2L1761.1,516.6L1763.9,516.9L1765.2,515.7L1768.0,515.2L1769.3,514.4L1774.8,510.3L1777.6,509.2L1779.0,508.2L1780.5,507.8L1781.9,506.5L1784.8,504.7L1787.6,501.7L1788.9,501.7L1791.3,500.4L1796.1,504.2L1800.4,510.8L1802.7,512.5L1803.9,512.4L1807.5,516.2L1808.7,516.3L1809.9,518.0L1811.0,518.9L1811.8,519.8L1812.6,522.2L1813.3,522.2L1814.8,526.4L1818.5,533.2L1821.5,535.6L1823.1,535.2L1824.6,535.8L1827.7,536.2L1830.7,535.4L1832.0,536.4L1833.3,538.1L1834.5,538.0L1838.3,541.9L1841.2,542.5L1842.8,541.5L1846.3,542.0L1849.7,540.5L1852.5,541.1L1853.4,540.1" fill="none" stroke="#0CC8CC" stroke-width="5.1" stroke-linejoin="round"/>
<path d="M70.5,119.4L71.6,119.1L72.2,120.3L72.7,117.7L73.3,119.6L73.8,117.8L74.4,119.1L74.9,116.9L75.5,119.3L76.0,116.1L76.6,118.6L77.1,116.6L77.7,118.2L78.2,115.0L78.8,117.7L79.3,115.1L79.9,118.3L80.4,115.2L81.0,117.4L81.5,113.3L82.1,116.4L82.6,113.3L83.2,117.0L83.7,113.4L84.3,115.9L84.8,111.9L85.4,115.6L85.9,111.7L86.5,114.2L87.0,110.9L87.6,113.8L88.1,110.1L88.7,113.0L89.2,108.5L89.8,112.8L90.3,108.3L90.9,111.6L91.4,107.0L92.0,110.3L92.5,105.2L93.1,109.6L93.6,103.3L94.2,107.7L94.7,100.5L95.3,106.3L95.8,98.0L96.4,104.2L96.9,96.7L97.5,103.8L98.0,96.2L98.6,103.6L99.1,94.4L99.7,101.7L100.2,95.4L100.8,99.4L101.3,91.8L101.9,100.0L102.4,91.0L103.0,100.6L103.5,90.2L104.1,96.4L104.6,90.8L105.2,97.4L105.7,90.2L106.3,97.9L106.8,86.8L107.4,96.6L107.9,87.6L108.5,95.7L109.0,88.0L109.6,92.9L110.1,85.8L110.7,93.5L111.2,84.7L111.8,90.2L112.3,84.1L112.9,89.7L113.4,82.9L114.0,87.8L114.5,81.2L115.1,87.7L115.6,78.6L116.2,88.2L116.7,78.5L117.0,82.5L117.8,67.0L118.7,85.5L120.4,78.5L121.0,98.0L122.2,75.7L122.8,86.6L123.3,74.1L123.9,83.4L124.4,74.1L125.0,82.9L125.5,75.3L126.1,86.6L126.6,74.7L127.2,85.5L127.7,72.9L128.3,86.7L128.8,72.6L129.4,82.4L129.9,74.7L130.5,84.5L131.0,76.8L131.6,84.6L132.1,74.7L132.7,85.6L133.2,73.9L133.8,82.7L134.3,77.3L134.9,84.6L135.4,78.0L136.0,83.2L136.5,76.9L137.1,83.1L137.6,76.7L138.2,85.4L138.7,79.4L139.3,84.4L139.8,77.5L140.4,85.7L140.9,79.1L141.5,83.4L142.0,77.4L142.6,85.4L143.1,79.2L143.7,83.8L144.2,77.5L144.8,84.7L145.3,78.9L145.9,84.0L146.4,77.1L147.0,83.7L147.5,79.0L148.1,82.6L148.6,78.8L149.2,85.9L149.7,79.9L150.3,84.3L150.8,79.1L151.4,85.8L151.9,80.6L152.5,86.9L153.0,79.4L153.6,91.8L154.1,80.4L154.7,90.2L155.2,81.4L155.8,94.3L156.3,78.1L156.9,97.5L157.4,83.4L158.0,91.9L158.5,80.7L159.1,97.8L159.6,83.8L160.2,97.4L160.7,82.4L161.3,97.2L161.8,83.6L162.4,95.0L162.9,88.3L163.5,97.8L164.0,90.8L164.6,102.7L165.1,93.2L165.7,103.3L166.2,95.1L166.8,103.8L167.3,95.7L167.9,105.1L168.4,97.9L169.0,109.2L169.5,101.7L170.1,112.7L170.6,105.5L171.2,113.2L171.7,108.2L172.3,116.9L172.8,112.4L173.4,121.9L173.9,114.3L174.5,122.5L175.0,119.9L175.6,126.6L176.1,124.3L176.7,130.7L177.2,129.1L177.8,136.4L178.3,134.7L178.9,140.8L179.4,140.6L180.0,146.6L180.5,148.0L181.1,152.9L181.6,154.9L185.6,181.6L193.1,226.1L196.8,242.9L197.2,243.2L200.7,258.3L204.7,272.8L206.8,278.0L208.9,285.0L216.0,301.6L216.6,303.8L217.9,306.4L218.5,306.9L219.2,309.1L221.2,312.6L221.9,314.6L226.1,322.0L226.7,324.0L228.1,326.3L230.2,330.9L234.2,337.9L235.1,340.2L239.2,346.9L240.7,350.6L242.1,352.2L243.3,354.9L243.8,355.0L245.7,357.6L246.6,357.8L250.7,356.1L252.2,356.3L253.7,355.7L255.3,356.4L259.7,355.9L262.9,354.5L264.4,354.7L265.9,354.5L267.3,353.4L269.9,353.1L270.9,351.8L271.9,351.5L272.9,349.9L275.2,348.4L276.4,346.7L279.1,346.2L281.8,344.2L283.3,344.2L286.4,342.8L288.0,343.4L289.5,342.4L293.7,341.3L295.3,341.4L296.9,342.4L298.3,341.8L299.7,342.6L301.1,342.3L302.4,342.8L305.1,344.7L308.0,344.6L311.0,345.9L313.8,347.8L315.0,347.7L318.6,349.0L320.0,348.8L321.1,347.4L322.4,347.1L323.8,347.7L325.3,346.5L328.2,345.1L329.2,343.5L331.1,342.1L333.0,339.2L335.1,337.0L336.4,334.8L338.0,333.3L339.8,329.9L340.7,329.4L342.6,326.0L346.6,321.1L347.6,319.2L348.6,318.7L349.5,317.0L353.2,312.7L354.5,311.7L355.8,310.2L357.1,309.8L359.5,307.4L362.6,305.2L364.3,305.1L366.6,305.7L372.7,314.1L373.6,315.0L376.5,319.7L378.2,321.1L379.0,322.4L380.1,322.6L381.1,321.4L382.1,321.1L385.6,313.6L386.0,313.3L391.1,293.3L396.6,279.9L397.3,279.5L398.0,277.7L399.5,276.0L400.3,273.8L401.3,273.3L402.5,271.3L403.7,270.0L404.9,269.8L407.4,266.8L408.6,265.9L409.8,265.7L410.8,264.4L411.8,264.8L413.2,264.1L415.4,264.6L416.4,266.3L417.4,267.3L418.4,269.6L419.3,272.3L419.8,272.8L427.2,301.9L427.7,301.6L428.2,302.1L428.7,302.1L429.3,300.8L431.2,293.7L433.1,290.7L433.6,290.9L434.1,292.0L436.4,302.7L438.0,305.2L438.7,304.9L440.3,303.0L441.9,298.6L443.7,295.8L444.6,295.5L445.2,295.8L446.4,299.0L447.0,299.6L450.2,309.4L452.2,312.5L452.8,314.4L454.2,314.0L455.7,314.9L457.1,313.6L458.5,313.0L461.0,308.9L462.7,302.7L465.3,284.9L465.9,282.1L466.7,280.0L467.5,278.6L469.9,275.9L470.8,273.8L472.3,272.6L475.7,268.1L478.4,262.2L480.0,257.7L481.5,251.8L484.6,242.8L488.2,234.4L490.3,231.4L492.7,226.9L493.5,226.1L494.4,224.5L496.3,223.0L498.1,220.4L499.2,218.2L501.2,216.8L503.3,214.0L506.7,211.1L508.1,210.7L509.4,211.2L510.7,210.8L512.1,210.0L513.4,208.7L514.2,208.4L515.0,207.4L516.6,203.8L519.0,200.2L519.9,198.5L521.6,196.2L522.5,194.3L523.4,193.5L524.3,191.4L529.2,185.5L530.3,185.6L531.5,184.2L532.8,183.7L534.2,184.1L537.3,183.4L540.4,184.0L542.0,183.4L543.5,183.8L544.9,182.6L546.2,183.2L547.5,181.2L549.9,179.3L552.1,176.9L553.1,175.2L555.1,173.7L556.1,172.4L557.6,172.7L560.4,174.2L561.8,176.2L563.1,176.0L564.3,176.6L567.3,170.2L568.4,165.7L569.0,165.2L570.2,161.9L570.8,161.9L572.1,161.0L573.4,161.2L576.2,163.0L577.6,163.3L580.2,163.0L582.9,160.7L587.2,156.4" fill="none" stroke="#784442" stroke-width="5.1" stroke-linejoin="round"/>
<path d="M620.8,128.0L622.8,127.6L624.0,127.7L625.5,126.3L628.8,125.3L630.5,125.5L632.3,124.6L634.0,125.1L635.3,124.9L636.8,125.5L638.3,124.7L639.9,126.2L643.1,126.2L644.7,127.6L646.3,127.2L650.6,128.6L657.2,127.0L658.3,125.5L661.0,124.3L663.8,122.5L665.0,122.5L668.9,120.0L670.3,118.6L673.2,117.7L674.7,116.8L676.2,115.0L679.1,113.6L680.5,113.9L681.9,112.2L683.4,112.3L684.9,111.3L686.4,111.5L687.9,110.2L689.4,110.3L690.9,109.8L692.3,110.0L693.8,109.1L695.3,109.4L698.2,108.3L701.0,108.5L702.6,107.4L704.2,107.0L705.8,107.6L707.3,107.0L708.9,107.2L710.4,105.9L716.3,106.2L717.8,105.2L719.5,105.6L724.6,104.1L726.3,104.8L727.9,104.7L729.5,103.5L730.9,103.5L732.2,104.3L733.4,103.7L734.9,104.5L735.8,105.6L737.1,109.5L738.0,110.0L740.5,113.0L741.8,112.4L743.2,113.1L744.7,111.9L746.3,112.9L747.9,113.2L751.0,110.9L752.4,111.5L753.7,113.4L756.3,115.5L757.4,117.1L758.5,119.8L759.6,120.2L760.7,121.8L761.9,122.5L765.9,123.1L767.3,122.0L770.2,121.0L773.2,124.3L774.7,124.9L776.2,124.2L779.0,124.0L780.3,123.2L782.8,126.3L784.1,126.8L785.4,127.8L786.7,126.5L789.3,128.7L790.7,129.0L794.6,133.0L797.1,133.4L798.4,134.4L802.3,139.1L807.6,141.3L808.9,140.8L810.2,141.1L811.5,142.2L819.3,145.0L820.6,146.4L823.2,150.7L824.4,151.4L825.6,151.5L827.0,152.8L831.1,152.9L832.4,153.9L833.7,155.7L835.0,156.2L836.3,157.1L837.6,158.1L838.8,159.6L840.0,161.7L840.9,162.5L842.6,165.8L843.4,166.0L844.2,167.8L845.0,168.3L847.3,172.9L848.1,173.3L850.4,178.0L853.9,183.0L855.8,187.5L857.7,190.1L858.6,190.7L860.5,193.0L861.4,193.7L862.3,193.6L863.2,194.2L864.0,196.2L866.9,200.5L870.2,209.6L874.1,214.8L876.3,221.6L876.9,222.3L878.6,227.2L879.1,227.8L879.7,229.7L880.8,231.4L882.0,234.5L885.0,244.7L886.9,250.1L887.3,250.7L887.8,252.8L888.3,253.4L891.0,264.1L891.5,264.8L894.9,279.9L898.0,291.1L899.6,298.6L901.2,309.1L902.6,325.3L903.9,332.8L905.8,340.9L906.6,343.8L907.1,344.2L907.6,345.7L910.7,351.3L913.1,352.8L914.4,354.1L915.7,353.5L917.1,354.5L919.7,354.5L922.5,352.5L925.3,351.7L927.9,349.5L932.3,348.6L933.6,347.8L936.4,348.4L937.8,348.2L939.3,348.6L946.4,351.5L947.9,351.5L949.3,350.2L950.7,349.9L953.6,348.4L954.3,346.5L955.6,344.9L956.2,342.9L958.2,339.2L958.9,336.8L959.6,336.1L960.9,332.6L961.5,332.3L963.3,328.6L964.4,327.2L965.5,326.7L966.6,324.5L972.1,321.8L973.3,322.1L977.2,326.0L977.9,327.9L981.7,334.0L982.5,336.1L985.7,341.9L988.5,346.2L989.4,346.8L991.3,349.0L992.2,350.9L997.3,353.6L998.8,353.9L1000.5,353.0L1002.0,353.8L1003.6,353.5L1005.0,353.7L1006.5,352.8L1007.9,353.1L1009.3,352.1L1012.1,351.5L1013.6,349.4L1014.5,348.7L1015.4,348.6L1016.3,347.7L1017.2,345.8L1019.2,344.0L1021.2,340.6L1025.3,335.7L1026.3,335.1L1027.4,333.3L1029.5,331.6L1030.6,330.0L1033.9,326.9L1035.0,326.7L1039.5,322.1L1041.9,320.3L1043.1,319.9L1045.4,317.4L1046.6,317.0L1048.9,315.2L1050.1,315.2L1052.7,313.4L1053.9,311.8L1056.5,310.9L1059.1,309.3L1061.6,308.2L1064.4,306.2L1067.4,305.9L1069.0,305.2L1070.5,305.9L1072.0,305.1L1073.4,304.7L1074.7,305.7L1075.8,305.6L1078.6,304.4L1079.6,305.2L1080.7,305.3L1083.2,306.4L1084.3,307.8L1085.4,308.6L1086.7,308.4L1091.7,312.9L1092.9,313.1L1094.1,315.0L1096.3,317.3L1097.4,318.1L1098.5,318.3L1099.7,320.4L1100.9,321.4L1102.2,321.8L1103.6,323.6L1104.8,323.8L1107.5,326.4L1109.0,326.7L1110.4,327.9L1114.8,329.9L1116.2,330.2L1117.5,331.6L1123.8,332.2L1126.8,333.0L1130.9,333.5L1132.2,334.5L1135.8,335.4L1142.0,329.6L1147.0,327.9L1148.2,329.2L1150.8,331.1L1151.6,331.3L1153.3,334.3L1154.2,335.3L1155.1,337.3L1156.9,339.4L1159.4,344.2L1160.4,344.8L1164.0,350.3L1166.8,351.7L1171.0,348.0L1173.9,343.0L1174.5,340.6L1175.1,340.0L1175.7,337.9L1176.4,337.4L1180.2,327.4L1181.5,325.5L1183.5,320.1L1184.2,319.7L1186.3,314.6L1188.2,310.9L1188.8,310.5L1190.8,307.2L1192.1,306.6L1193.3,306.7L1195.8,306.1L1196.9,306.9L1197.9,306.5L1199.0,307.7L1200.1,307.8L1201.1,309.2L1202.2,311.6L1202.7,312.0L1208.2,329.7L1210.9,335.5L1211.6,337.8L1212.4,338.8L1213.2,339.1L1214.1,341.3L1216.4,341.8L1219.5,343.3L1222.8,343.4L1225.8,342.4L1227.1,342.4L1230.8,340.9L1232.0,339.4L1233.2,339.0L1234.4,336.9L1235.3,336.4L1237.0,334.0L1237.8,333.5L1238.7,331.5L1240.4,329.2L1241.3,326.9L1244.8,320.5L1246.7,316.5L1249.7,308.2L1250.3,307.8L1250.9,305.7L1252.5,302.9L1255.4,298.3L1257.2,296.2L1258.2,295.7L1260.0,295.6L1261.0,296.9L1262.0,297.3L1265.7,303.3L1269.1,310.6L1271.6,317.1L1272.3,317.7L1273.0,317.3L1274.0,318.3L1275.0,316.8L1276.2,316.6L1279.6,311.4L1280.6,311.1L1282.6,307.6L1283.5,307.1L1285.1,303.8L1288.0,300.5L1289.3,299.9L1290.7,300.6L1295.4,300.5L1298.6,301.4L1301.8,299.6L1306.6,297.6L1308.0,297.2L1309.3,297.8L1310.2,298.3L1313.1,303.9L1314.4,307.6L1317.6,315.0L1319.0,319.5L1320.3,322.6L1320.9,323.2L1321.6,324.6L1322.2,325.0L1323.0,324.8L1323.8,324.2L1325.4,321.7L1327.0,318.1L1329.4,313.9L1332.6,306.4L1333.4,306.2L1334.2,304.5L1336.8,305.1L1337.6,305.6L1341.4,313.2L1341.9,313.6L1342.4,315.4L1342.9,315.9L1348.9,334.4L1349.5,335.8L1350.0,336.1L1353.6,345.4L1354.3,346.1L1355.0,348.0L1355.7,348.7L1356.4,350.2L1357.9,351.4L1358.6,352.5L1359.8,353.0L1361.1,352.8L1362.3,351.2L1363.5,350.6L1368.3,346.8L1370.4,343.4L1371.5,343.1L1372.5,341.0L1373.6,340.9L1375.7,339.2L1378.9,341.2L1381.1,344.1L1382.1,344.6L1383.2,346.5L1384.3,347.1L1385.3,348.4L1386.3,349.0L1388.1,352.3L1391.4,354.0L1392.9,355.2L1394.0,355.0L1395.3,354.0L1398.0,353.7L1401.1,351.6L1402.6,351.6L1404.1,350.2L1405.7,350.2L1407.2,349.2L1408.6,349.1L1410.0,349.7L1414.2,350.0L1421.0,355.1L1422.3,355.2L1423.6,356.1L1425.0,355.3L1427.7,355.4L1430.5,354.4L1431.8,353.2L1433.2,352.8L1435.9,350.4L1437.3,349.6L1440.0,348.5L1441.4,347.5L1444.1,346.9L1445.5,345.1L1446.9,345.5L1449.6,343.8L1451.0,343.7L1452.4,342.5L1455.1,343.4L1456.5,343.1L1459.3,344.9L1460.7,345.1L1464.8,348.4L1466.2,348.4L1468.8,350.4L1470.1,350.9L1471.6,351.0L1474.6,349.2L1476.1,349.2L1482.9,344.7L1484.1,344.6L1485.2,343.8L1486.3,342.4L1488.4,341.0L1489.4,339.0L1490.4,338.2L1493.6,333.7L1494.4,332.9L1495.1,332.5L1496.7,328.8L1498.2,326.8L1502.1,318.4L1505.3,314.0L1507.1,310.9L1508.9,306.9L1509.8,306.5L1510.6,304.2L1511.5,303.0L1512.4,302.6L1513.3,300.7L1514.2,300.9L1515.1,300.0L1516.5,299.4L1517.8,300.1L1519.3,301.5L1520.7,302.3L1522.0,304.0L1523.3,304.4L1524.6,305.8L1525.8,306.0L1526.6,305.2L1528.1,302.2L1532.1,291.3L1532.7,290.6L1533.9,291.0L1534.5,290.8L1535.7,293.8L1538.7,303.7L1541.5,317.3L1542.4,319.0L1542.9,318.5L1543.9,316.9L1549.7,292.9L1555.1,265.0L1557.7,253.4L1560.6,245.0L1562.9,241.7L1563.6,242.3L1564.4,242.1L1565.5,243.9L1567.2,247.7L1570.3,258.3L1572.3,261.5L1573.7,262.5L1575.1,261.3L1576.6,259.3L1578.9,253.6L1580.5,252.3L1581.1,252.9L1582.2,254.9L1582.8,257.2L1583.4,258.1L1584.0,260.6L1586.7,268.1L1588.7,275.6L1590.7,281.6L1591.2,281.9L1591.7,283.1L1593.3,284.4L1594.4,284.7L1595.5,284.3L1599.1,278.0L1601.0,271.6L1606.1,248.8L1607.7,239.0L1610.0,227.9L1611.1,224.8L1612.8,221.7L1614.0,220.9L1615.4,220.7L1616.8,219.6L1618.4,220.6L1620.1,221.0L1621.3,220.5L1622.5,221.6L1625.0,222.9L1627.8,224.3L1629.4,224.7L1631.1,226.0L1632.9,226.6L1635.2,228.8L1636.5,228.8L1639.1,230.1L1640.5,231.2L1643.4,231.9L1644.9,233.3L1647.8,234.8L1649.2,235.9L1655.7,239.7L1656.9,241.4L1658.1,241.8L1661.7,244.6L1663.9,247.7L1665.0,248.5L1666.1,250.2L1667.1,250.4L1669.1,253.3L1671.0,255.0L1673.2,258.2L1675.1,260.0L1678.6,265.8L1679.5,266.5L1683.0,272.4L1683.8,272.8L1684.7,275.0L1685.6,276.2L1686.4,276.8L1688.2,279.2L1690.7,283.7L1693.1,287.1L1696.2,293.7L1699.1,298.3L1700.5,302.1L1701.9,303.4L1704.6,309.1L1705.4,309.9L1706.3,311.9L1708.0,314.5L1709.7,316.3L1711.0,317.0L1712.2,318.5L1713.5,318.6L1716.1,320.5L1720.2,320.3L1721.6,321.1L1726.2,319.9L1727.5,320.6L1728.8,319.8L1730.2,320.1L1734.5,318.5L1740.1,318.1L1742.8,320.1L1744.2,319.7L1745.6,320.1L1746.9,321.1L1748.3,321.4L1749.7,322.8L1751.1,322.5L1752.5,324.1L1753.9,324.8L1755.3,326.0L1758.0,327.2L1759.3,327.2L1760.7,326.5L1761.9,326.7L1763.2,326.1L1766.8,323.1L1768.2,323.1L1769.5,321.8L1772.2,321.4L1773.6,321.9L1775.1,320.9L1776.5,321.2L1777.9,320.6L1779.2,320.9L1783.6,318.4L1785.0,318.7L1789.1,316.9L1790.4,317.3L1791.7,318.5L1792.9,318.3L1794.1,318.9L1795.3,320.4L1796.6,321.0L1798.0,322.1L1799.3,322.1L1800.6,322.7L1802.0,322.4L1803.4,322.8L1804.8,323.4L1806.2,324.8L1807.6,325.2L1810.1,326.7L1813.5,331.1L1814.6,331.4L1815.8,332.7L1816.9,334.9L1821.6,338.0L1826.3,336.9L1830.2,337.3L1833.2,340.5L1834.4,340.9L1835.7,340.0L1837.2,340.7L1840.3,339.9L1842.1,340.7L1843.6,341.0L1845.3,340.9L1847.2,340.0L1849.0,339.8L1852.2,339.8L1853.2,340.5" fill="none" stroke="#784442" stroke-width="5.1" stroke-linejoin="round"/>
<g font-family='"Liberation Sans", Arial, Helvetica, sans-serif' font-size="55" text-anchor="middle" fill="#000" stroke="#000" stroke-width="0.5">
<text transform="translate(68.2,1443) scale(0.985,1)">4000</text>
<text transform="translate(243.0,1443) scale(0.985,1)">3500</text>
<text transform="translate(416.0,1443) scale(0.985,1)">3000</text>
<text transform="translate(620.5,1443) scale(0.985,1)">2000</text>
<text transform="translate(1060.8,1443) scale(0.985,1)">1500</text>
<text transform="translate(1501.1,1443) scale(0.985,1)">1000</text>
</g>
<text font-family='"Liberation Sans", Arial, Helvetica, sans-serif' font-size="69" transform="translate(664,1557.2) scale(0.985,1)" fill="#000" stroke="#000" stroke-width="0.5">Wavenumber (cm<tspan font-size="46.5" dy="-28.4">-1</tspan><tspan dy="28.4" dx="4">)</tspan></text>
<text font-family='"Liberation Sans", Arial, Helvetica, sans-serif' font-size="55" x="618.5" y="100.2" fill="#000" stroke="#000" stroke-width="0.5">DES<tspan font-size="37.5" dy="14.5">100-4</tspan></text>
<text font-family='"Liberation Sans", Arial, Helvetica, sans-serif' font-size="55" x="618.9" y="187.8" fill="#000" stroke="#000" stroke-width="0.5">DES<tspan font-size="37.5" dy="14.5">100-2</tspan></text>
<text font-family='"Liberation Sans", Arial, Helvetica, sans-serif' font-size="55" x="624.7" y="349.3" fill="#000" stroke="#000" stroke-width="0.5">DES<tspan font-size="37.5" dy="14.5">100-1</tspan></text>
<text font-family='"Liberation Sans", Arial, Helvetica, sans-serif' font-size="55" x="626.8" y="466.8" fill="#000" stroke="#000" stroke-width="0.5">DES<tspan font-size="37.5" dy="14.5">100-3</tspan></text>
<text font-family='"Liberation Sans", Arial, Helvetica, sans-serif' font-size="55" x="626.8" y="583.3" fill="#000" stroke="#000" stroke-width="0.5">DES<tspan font-size="37.5" dy="14.5">90-3</tspan></text>
<text font-family='"Liberation Sans", Arial, Helvetica, sans-serif' font-size="55" x="628.8" y="689.7" fill="#000" stroke="#000" stroke-width="0.5">DES<tspan font-size="37.5" dy="14.5">80-3</tspan></text>
<text font-family='"Liberation Sans", Arial, Helvetica, sans-serif' font-size="55" x="628.8" y="788.3" fill="#000" stroke="#000" stroke-width="0.5">DES<tspan font-size="37.5" dy="14.5">70-3</tspan></text>
<text font-family='"Liberation Sans", Arial, Helvetica, sans-serif' font-size="55" x="635.9" y="951.2" fill="#000" stroke="#000" stroke-width="0.5">Chitin</text></svg>
</body></html>
